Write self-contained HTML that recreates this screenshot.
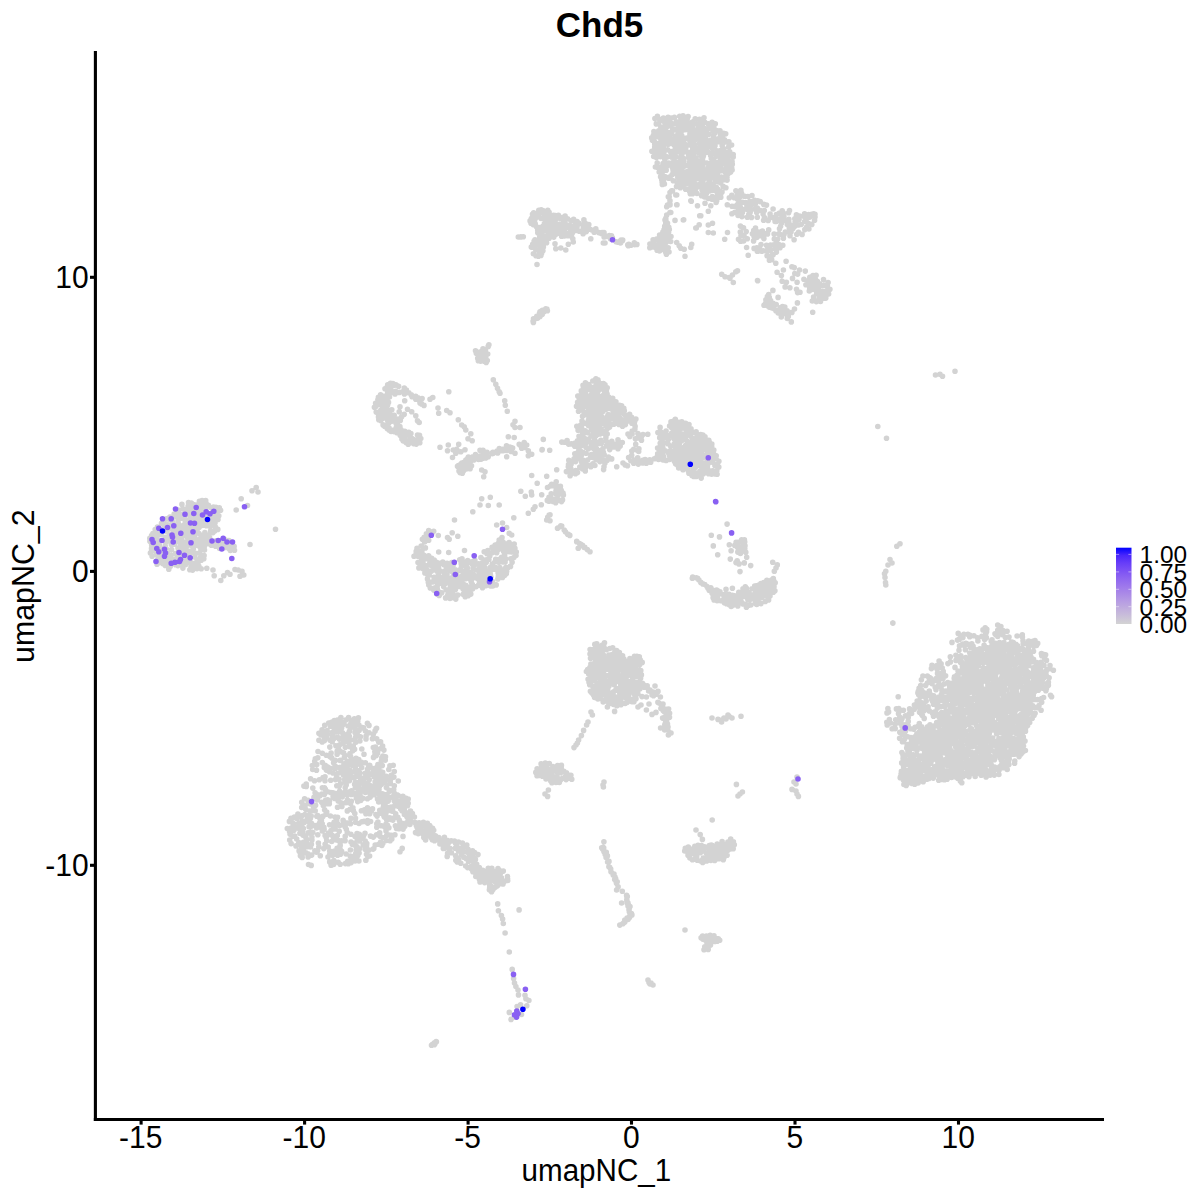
<!DOCTYPE html>
<html lang="en"><head><meta charset="utf-8"><title>Chd5</title>
<style>
html,body{margin:0;padding:0;background:#fff;}
body{width:1200px;height:1200px;overflow:hidden;font-family:"Liberation Sans",sans-serif;}
svg{display:block;}
text{font-family:"Liberation Sans",sans-serif;fill:#000;}
</style></head><body>
<svg width="1200" height="1200" viewBox="0 0 1200 1200">
<defs>
<linearGradient id="lg" x1="0" y1="0" x2="0" y2="1">
<stop offset="0.0" stop-color="#0000ff"/><stop offset="0.1" stop-color="#4926fb"/><stop offset="0.2" stop-color="#673df8"/><stop offset="0.3" stop-color="#7c51f4"/><stop offset="0.4" stop-color="#8e65f0"/><stop offset="0.5" stop-color="#9d77ec"/><stop offset="0.6" stop-color="#aa89e7"/><stop offset="0.7" stop-color="#b69ce3"/><stop offset="0.8" stop-color="#c1aede"/><stop offset="0.9" stop-color="#cac0d9"/><stop offset="1.0" stop-color="#d3d3d3"/>
</linearGradient>
</defs>
<rect width="1200" height="1200" fill="#fff"/>
<path fill="none" stroke="#d3d3d3" stroke-width="5.6" stroke-linecap="round" d="M174.8 516.4h0M213.5 507h0M205.7 500.5h0M189.4 542h0M204 505.2h0M206 522.5h0M184.8 519.7h0M210.2 526.4h0M166.5 518.9h0M193.9 566.4h0M175.5 553.5h0M178 548.1h0
M203.8 525.1h0M194.2 535.5h0M172.2 518.2h0M191.9 508.5h0M215.9 507.4h0M149.8 538.4h0M177.9 517.5h0M160.7 554.3h0M203.6 538.5h0M220.6 510.2h0M198.9 566.3h0M161.8 558.2h0
M159 531.3h0M173.8 561.1h0M184.4 551.3h0M194.4 504.9h0M167.9 556.4h0M199.4 501.3h0M193.9 526.4h0M169.7 519.5h0M204.9 532.6h0M188.5 558.3h0M176.9 512.9h0M191.6 513.9h0
M166.5 528.1h0M156.4 537.4h0M186 531.3h0M189.5 529.5h0M167.6 524.7h0M188.1 506.4h0M194.3 530.8h0M194.9 518h0M216 540.7h0M171.1 529h0M198.5 561.8h0M156.2 545.6h0
M171.7 559.4h0M193.6 515.2h0M185.1 553.6h0M198 539.8h0M189.1 509.3h0M197.7 504.9h0M178.2 556.4h0M180.7 514.3h0M193.3 511.3h0M197 520h0M210.7 530.7h0M218 519.4h0
M189.3 553.8h0M204.5 550h0M164.5 556.2h0M174.9 536.5h0M217.3 511.4h0M157.9 534.8h0M150.4 553.1h0M151.5 548.6h0M149.9 541.2h0M187.2 562.6h0M190.1 511.3h0M211.4 507.7h0
M166.2 548.9h0M191.3 503h0M161.1 534.5h0M216.2 513.6h0M178.2 523.3h0M178.8 551h0M222.9 543.8h0M181.9 525.7h0M165.4 537.4h0M174.7 534.4h0M182.9 568.1h0M164.6 554.1h0
M205.8 512.1h0M174.4 544.2h0M208.4 505.2h0M207.7 514.3h0M195.6 553.4h0M217.8 529.4h0M205.5 517.2h0M230.7 547.1h0M172.4 541.6h0M167.5 553.3h0M195.9 539.8h0M151.5 551.2h0
M163.9 528.3h0M164.2 523.9h0M159.6 562.5h0M186.5 515h0M211.5 540.7h0M212.7 514.4h0M206.2 541.1h0M180.8 549.7h0M178.9 529.4h0M208.5 522h0M193.1 552.3h0M183.3 557.1h0
M183.3 563.2h0M197.4 532h0M159.3 545.4h0M170.1 525.2h0M178.2 510.1h0M194 540.8h0M189.8 569.8h0M201 525.6h0M165.2 545.7h0M198 513.7h0M217 517.3h0M152.9 533.5h0
M213 532.6h0M208.9 535.1h0M184.8 509.6h0M204.1 555.6h0M202.8 544.7h0M195.3 509.8h0M197.6 507.2h0M188.2 556.1h0M197.5 545.2h0M197.2 542.2h0M214.7 511h0M152.1 556.2h0
M170.2 566.5h0M189 520.2h0M157.7 548.1h0M219.6 548.5h0M175 526.6h0M208.6 517.6h0M212.1 519.3h0M188.4 551h0M218.8 515.7h0M201.9 521.2h0M161.5 552.2h0M154 539.1h0
M193.2 521.6h0M191.4 562.9h0M192.6 546.7h0M184.1 524.9h0M153.8 544.5h0M200.6 508.6h0M166.3 562.6h0M206.4 525.7h0M228.8 548.5h0M200.7 557h0M156.4 554.4h0M197.1 559.8h0
M189 544.9h0M171.1 555.3h0M185.7 558.5h0M186.6 529.2h0M166.9 531.5h0M217.4 545h0M185.3 512.3h0M163.8 531h0M210.7 533h0M213.8 516.3h0M189.6 533.5h0M193.4 548.7h0
M227.7 542.2h0M211.4 545.3h0M161.5 523.3h0M220.8 542.9h0M187.8 512.3h0M224 547.7h0M183.9 548.3h0M203.8 558.8h0M198.8 522.7h0M169.3 534.7h0M165.3 565.4h0M201.2 516.7h0
M186.1 533.4h0M156.7 560.7h0M234.5 550.3h0M182.1 518.2h0M157.4 527h0M181.8 529.8h0M198.4 510.3h0M178.1 520.6h0M167.1 558.6h0M200.8 512.5h0M191.4 531.8h0M181.2 542.1h0
M197 568.6h0M209.2 519.9h0M186.6 541.7h0M160.8 548.2h0M171.3 544.6h0M178.9 526.6h0M175.6 564.7h0M198.5 516.6h0M181.2 555.2h0M165.7 541.9h0M192.6 570.1h0M189.9 523h0
M172.5 534.5h0M171.6 549.6h0M180.6 544.6h0M158.8 540h0M208.3 540h0M203.8 535.5h0M176.4 541.7h0M175.9 558.8h0M176.9 537.9h0M167 539.5h0M154.7 534.6h0M206.6 506.6h0
M155.2 529.5h0M171.4 539.4h0M190.2 516.1h0M192.8 528.3h0M188.5 502.5h0M158.7 551.9h0M200.1 547.3h0M231.3 544.7h0M202.1 540.4h0M199 533.5h0M180.3 563h0M203.7 519.5h0
M225.6 544.7h0M200.6 538.4h0M186.6 525.1h0M151.6 535.5h0M154 550.4h0M212.8 510.2h0M230.3 550.5h0M172.5 522.1h0M151.5 543.3h0M175.8 532.5h0M199.7 519.4h0M191 567h0
M208 543.8h0M199.2 527.2h0M184.4 516.7h0M176.7 530h0M164.8 560.8h0M189.5 504.6h0M173.4 524.6h0M185.7 564.4h0M202.1 500.6h0M187.1 536.8h0M186.6 546.2h0M158 543.5h0
M193 524.2h0M181.7 539.5h0M174.6 529.1h0M214.6 544h0M182.1 532.1h0M180 546.9h0M209.6 537.5h0M182.2 516.1h0M215.6 527.4h0M228.9 540.5h0M195.1 543.3h0M151.7 545.5h0
M154 546.8h0M183.1 535.6h0M234.1 546.4h0M196.7 528.8h0M169.9 517h0M194.9 537.8h0M202.9 510.5h0M221.1 545.1h0M204.2 547.1h0M191.6 536.6h0M206.1 503.2h0M201.2 560.3h0
M215.6 546.2h0M219.3 507.9h0M183.4 527.8h0M191.5 517.9h0M215 522.9h0M174.2 514h0M212.7 523.5h0M195.4 563.3h0M206.1 538.5h0M183.9 545.3h0M190.8 525.7h0M200.4 543.5h0
M220.2 540.9h0M194.9 556.9h0M181.2 552.6h0M177.9 565.6h0M201 550.1h0M179 559.2h0M168.5 537.1h0M156.6 541.6h0M182.9 508.7h0M197.3 526.2h0M158.2 558h0M169.5 541.1h0
M201.2 535.4h0M201.8 503.6h0M214.2 518.6h0M173.7 531.6h0M225.6 540.1h0M199.7 552.8h0M188.6 539.9h0M162.8 563.6h0M209.8 515.3h0M214.9 530.7h0M179 536h0M205.7 509.1h0
M181.9 504.4h0M164.6 526h0M213 570h0M214.2 575.8h0M220.8 580.5h0M223.8 575.8h0M227.5 572.5h0M230 574.2h0M235 569.5h0M238.2 570h0M242 571.2h0M243.8 575h0
M240 576.2h0M236.2 510h0M241.2 498.8h0M247.5 505.5h0M252 490.8h0M256.2 487.5h0M258 492h0M275.5 529.2h0M250 544.5h0M168.8 569.2h0M157 564.2h0M206.8 568.2h0
M201.2 568.8h0M535.4 243.4h0M542.9 250.8h0M570.9 227.3h0M542.9 210.6h0M540.6 247.1h0M549.9 216h0M535.2 223.7h0M557.2 228.9h0M533.2 224.6h0M555.3 223.4h0M559.1 224.3h0
M537.7 230.2h0M584.5 222.5h0M540.9 255.4h0M546.8 222.5h0M552.9 227.6h0M550 229h0M536 255.7h0M534.1 241.3h0M540.4 230.2h0M539.8 253.7h0M549.1 218.8h0M555.6 234.6h0
M541.6 242.1h0M549.1 212.2h0M579.3 231.2h0M562.6 228.7h0M564.8 230.9h0M585.9 223.9h0M574.3 226h0M576.7 230.5h0M574.7 221.7h0M552.3 231.2h0M545.1 217.9h0M543.4 240.2h0
M550.3 223.5h0M591.8 230h0M561.6 236.3h0M544.5 214.8h0M566.8 224.9h0M541.6 253.5h0M571.5 234.7h0M530.1 220.9h0M569.4 225.4h0M575.7 223.8h0M539.4 241.8h0M574.3 228.8h0
M542.8 236.1h0M546.2 230.4h0M553.5 215.3h0M533.7 212.7h0M537.8 232.7h0M548 227.5h0M541.1 218.5h0M532.5 214.3h0M559.5 232h0M557.2 224.9h0M546.6 242.7h0M549.2 234.8h0
M578.9 223.4h0M583 225h0M554.4 230.4h0M571.2 220.6h0M552.6 235.7h0M532.7 244.2h0M583.8 231.9h0M531.4 218.6h0M547 235.8h0M549.1 238.3h0M537.2 240.9h0M544.4 223.5h0
M543 226.3h0M557.5 231.6h0M544.3 212.6h0M573.6 219.4h0M552.4 218.8h0M536.5 226.8h0M583.3 228.1h0M539.1 251.8h0M569.8 235.8h0M583.9 230h0M558.3 226.7h0M540.6 213.1h0
M565.2 227.8h0M535 239.7h0M572.7 232.4h0M547.8 210.4h0M560.3 218.4h0M538.8 210.2h0M553.5 220.8h0M583.1 233.7h0M587.4 229h0M538.4 216.7h0M586.3 231.6h0M541.1 250.2h0
M577.1 221.5h0M539.8 227.5h0M539.7 237h0M567.7 235.8h0M540.4 243.4h0M535.2 218.7h0M537.8 244.6h0M560.9 225.6h0M555.5 215.5h0M542.6 231.7h0M550.1 225.3h0M534.8 215.4h0
M533.4 253.7h0M539.7 233h0M533.5 247.1h0M568.4 233.6h0M561.5 231.6h0M547.1 218.6h0M577.1 226.3h0M550.7 221.6h0M531.3 247.1h0M536.3 214h0M558.4 215.3h0M562.9 219.6h0
M531 223.3h0M567.6 218.9h0M546.4 225.2h0M570.6 231.5h0M565.1 216h0M564.1 235.9h0M565 233.7h0M535.8 249.8h0M583.9 219.9h0M541.2 209.7h0M576.9 228.1h0M541.6 237.8h0
M548.8 232.9h0M557.9 233.3h0M542.3 228.1h0M562.9 217.4h0M564.9 218h0M562.4 223.9h0M553.8 237.1h0M538.4 256.3h0M545.4 220.6h0M585.2 226.4h0M588.8 224.6h0M538.2 228.4h0
M572.4 228.4h0M543.5 242.8h0M557.6 217.5h0M546 213.8h0M535.7 245.4h0M567.8 227.1h0M543.4 247h0M590 229.2h0M564.5 221.9h0M555.6 219.6h0M547.2 238.4h0M534.5 221.6h0
M601.3 233.4h0M611.5 235.9h0M609.3 235.6h0M606.4 236.5h0M610.4 238.8h0M598.8 232.6h0M595.8 228.9h0M602.2 232.5h0M594.2 232.3h0M604 232.5h0M603.6 234.1h0M604.1 236.9h0
M595.8 230.2h0M612.4 237.9h0M604.6 235.4h0M602.9 233.7h0M634.7 244.6h0M634.3 242.9h0M616.2 241.8h0M627.9 244.8h0M630.9 245.3h0M620 241.4h0M622.2 241h0M622.7 240.1h0
M636.9 244.4h0M628.8 244.4h0M620.5 243h0M618 242.2h0M627.8 244.9h0M621.1 240.1h0M634.3 243.5h0M518.3 237h0M520.8 236.9h0M523.3 236.8h0M537 264.5h0M555 243.8h0
M555.8 248.8h0M560.8 248h0M565.8 250h0M568.3 244.2h0M573.3 242h0M572.8 238.7h0M590.8 238.7h0M603.3 243h0M605 243h0M628.3 245.8h0M660.7 239.9h0M664.1 238.6h0
M668.8 227.4h0M671 236.5h0M649.8 247.7h0M668.2 247.8h0M665.7 223h0M660.6 236.8h0M653.1 239.9h0M653.9 243.4h0M666.4 254.3h0M664 249.8h0M667.6 234.4h0M664 229.8h0
M664.1 246.3h0M665.5 232.8h0M666.5 230.9h0M666 242.6h0M667.1 238.7h0M655.3 247.2h0M666.6 250.4h0M662.9 232h0M651.7 245.1h0M668 240.8h0M665.2 235.4h0M666 220.9h0
M661.9 243.3h0M666.4 227.7h0M669.3 229.5h0M656.6 239.1h0M653.8 245.5h0M657.1 250.3h0M669 252h0M664.7 226.4h0M670.7 241.5h0M668.6 232.6h0M658 248.3h0M660.5 248.4h0
M656.8 245.6h0M659.6 235.1h0M661.1 246.6h0M667 236.9h0M665.8 252.4h0M664.6 240.4h0M662.6 234.3h0M649.9 244.1h0M665.3 248.2h0M652.6 247h0M659 241.1h0M659.5 251h0
M666.7 215h0M670 212.5h0M668.3 205h0M670 204.2h0M669.2 196.7h0M670 192.5h0M672.5 190.8h0M676.7 195h0M677 204.7h0M675 220.5h0M683.3 220h0M691.3 201.2h0
M697.5 205.8h0M696.3 228h0M699.7 215.8h0M676.7 242.5h0M679.2 245.8h0M680.8 248.3h0M684.2 249.2h0M685 256.3h0M690.8 247.5h0M691.7 244.2h0M665 220h0M666.7 206.7h0
M670 200.8h0M542.4 310.4h0M539.8 315.9h0M533.5 318.8h0M541.1 311.3h0M541.7 312.3h0M539.8 316.3h0M544.2 311.6h0M533.1 321.2h0M538.7 315.5h0M533.4 322.4h0M546.9 309.1h0
M542.5 313.5h0M535.8 318.4h0M543.3 312h0M537.7 318.1h0M542.3 314.2h0M536.8 316.3h0M538.4 316.2h0M539.5 313.4h0M547.4 310.7h0M538.3 317h0M545.8 308.8h0M540 316.4h0
M540 311.9h0M542.8 312h0M689.9 140.9h0M697.4 129.5h0M698.2 162.6h0M724.6 161.4h0M693.5 129.9h0M664.1 156.1h0M695.7 169.4h0M704.8 122.2h0M657.2 163.1h0M690.4 169.4h0
M711.3 158.4h0M653.8 137.6h0M713.5 173.5h0M687.2 171.5h0M714.7 139.7h0M732.3 164.2h0M699.2 167h0M720.2 137.7h0M676.1 157.1h0M694.3 133.3h0M655.4 167h0M701.4 140.7h0
M690.3 164.2h0M689.7 161.7h0M714 128.4h0M681.9 136h0M717.8 189.3h0M677.4 183.6h0M727 177.2h0M715.3 190.6h0M683.3 158.1h0M701 170.8h0M680.3 187.7h0M657.4 116.4h0
M678 133.2h0M685.3 165.2h0M670.3 122.9h0M720.5 180.8h0M666.8 166.2h0M651.9 151.2h0M666 132h0M728.7 154.3h0M722.4 153.3h0M707.4 129.7h0M684.7 123.6h0M722.2 145.8h0
M677.8 177.3h0M720.2 134.1h0M720.9 170.8h0M720.8 168.6h0M694.9 149.3h0M680.5 121.1h0M692 139.4h0M698.8 127.8h0M674.8 166.4h0M673.1 170.4h0M693.6 190h0M696.4 133.6h0
M686.6 138.1h0M685.6 189.2h0M691.1 185.9h0M704.3 143.1h0M717.8 167.9h0M703 180.4h0M668.8 178.3h0M667.7 149.8h0M697.2 123.9h0M685.7 149.1h0M721.1 164.8h0M664.4 144.4h0
M681.4 146.6h0M668.1 117.4h0M727.1 180.1h0M658.6 123.5h0M678.5 165h0M703.7 139.6h0M704 117.8h0M663.1 142.1h0M692.7 126.1h0M677 144.4h0M725.4 172.5h0M714.4 176h0
M718 179.5h0M663 171.3h0M716.3 187.2h0M700.4 131.2h0M667.8 139.5h0M723.6 133.2h0M715 145.8h0M706.8 163h0M717.9 162.2h0M717.8 181.6h0M697 193.5h0M684.9 144.3h0
M717.8 172.6h0M659.7 119.4h0M728.9 141.8h0M720.3 150.6h0M706.9 178h0M710.1 170.2h0M683.9 161.4h0M704.2 190.1h0M669.9 135.7h0M657.2 133.2h0M687.5 165.4h0M690.9 156.2h0
M653.9 131.6h0M660.8 127h0M671.1 118.1h0M679.7 116.2h0M706.5 148.6h0M712.9 131.5h0M717.4 130.8h0M687.4 126.6h0M671.4 156.9h0M680.6 130.1h0M688.4 122.7h0M726.5 152.5h0
M693.4 167.5h0M693.1 141.9h0M700.9 155.4h0M662.2 129h0M721.3 177h0M681 133.1h0M715.3 123.7h0M704.4 162.7h0M716.6 198.6h0M695.8 188.8h0M722 139.9h0M713.2 185.9h0
M707.8 188.9h0M654.4 141.8h0M688.7 155.1h0M709.6 178.3h0M725 157.6h0M664.7 159.2h0M663.4 118.1h0M692.2 152h0M712.5 177.9h0M692.6 176.1h0M654.7 147h0M697.1 187h0
M680.3 161.3h0M682.5 185.2h0M713.3 124.8h0M711.1 184.9h0M705.6 132.3h0M720 130.9h0M728.5 173.2h0M672.2 174.6h0M680.6 167.8h0M670.2 176.7h0M665.6 163.5h0M698 149.7h0
M697.9 170.1h0M699.7 143.3h0M705.8 134.7h0M717.6 139h0M662.3 135.1h0M689.7 191.4h0M673.1 124.1h0M690.3 178h0M698.9 138.3h0M660.4 156.6h0M656.4 157.4h0M708.5 165.9h0
M676.6 173.9h0M717.4 192.6h0M676.5 186.6h0M681.3 143.3h0M694.7 183.6h0M668.1 144.2h0M729.7 151.9h0M654.7 143.9h0M691.8 171h0M679.3 171.4h0M681.8 170.1h0M663.9 121.5h0
M684.5 175.5h0M722 191.9h0M688.1 116.6h0M683 164.1h0M710.6 163.5h0M714.4 165.4h0M657.2 136.6h0M665.4 176.7h0M691.8 145.4h0M674.4 117.4h0M693.8 153.7h0M713.1 183.7h0
M726.5 155.1h0M701.6 195.8h0M733.2 154.5h0M694.5 162.2h0M708.1 171.9h0M712.1 148.1h0M676.5 170.4h0M720.4 159.2h0M696.9 173h0M653.4 135.2h0M671 143.5h0M707.7 141.8h0
M706.4 193.6h0M696.5 164.6h0M656.5 148.7h0M699 153h0M658.8 143.2h0M672.5 162.8h0M692.4 122h0M724.8 177.3h0M671.5 126.4h0M708.3 123.9h0M710.3 142.6h0M700.7 160.5h0
M701.8 121h0M723 163.7h0M672.7 130.4h0M708.5 134.5h0M682.2 173h0M693 158h0M699.6 147.6h0M703.8 184.8h0M701 123.6h0M665.9 142.4h0M674.3 154.9h0M710.6 155.5h0
M696 179.1h0M723.1 186.3h0M700.9 180.2h0M705.9 139.2h0M674.8 150.4h0M698.4 184.8h0M680.9 126.6h0M672.4 167.7h0M729.7 170.2h0M702.7 158.3h0M714.4 133.5h0M713.9 161h0
M679.7 141.6h0M713.7 153.3h0M661.7 179.4h0M712.3 196.5h0M728 164.8h0M702 189.8h0M709 146.6h0M682.5 182.8h0M678.6 181.8h0M672.1 139.4h0M703.9 128h0M700.5 151.2h0
M670.9 164.9h0M662.8 166.1h0M692.1 134.1h0M695.2 118.8h0M675.5 136.3h0M671.6 133.6h0M690 152.3h0M725.9 187.7h0M662.1 182h0M717.3 196h0M706.2 174h0M668.1 141.8h0
M730.6 172.1h0M718.2 165.9h0M684.8 119.2h0M708 183.8h0M693.2 137.1h0M683.5 166.7h0M657.5 167.2h0M724.1 179.8h0M699.5 119.4h0M673.3 180.7h0M689.4 144.9h0M686.7 121.2h0
M728.7 156.5h0M663.3 147.4h0M703.7 174.5h0M655.1 152.7h0M656.3 123.9h0M692.5 193.7h0M663.3 176.2h0M711.2 187.2h0M728.1 160.2h0M702.4 126.1h0M683 115.7h0M715.4 142.6h0
M710.5 167.3h0M677.2 162.6h0M666.2 170.3h0M660.1 170h0M720.8 197.2h0M703.1 149.1h0M687.3 180.6h0M687 174.2h0M685.5 151.7h0M709.3 180.7h0M664.4 184h0M683.3 179.6h0
M704.9 152.8h0M711.7 199.1h0M665.5 128.9h0M684.2 127.6h0M726.5 169.8h0M680.5 123.8h0M728.6 147.1h0M653.7 156.5h0M720.8 193.7h0M689.9 134.2h0M713.5 136.1h0M674.1 160.4h0
M658.7 130.9h0M694.9 140.3h0M716.4 156.1h0M659.2 172h0M711 140.1h0M677.8 136.8h0M688.2 130h0M683.1 150.7h0M731.6 145h0M668.7 163h0M674.4 145.2h0M709.7 191h0
M694.8 145h0M668.4 121.6h0M723.7 148.8h0M724.5 139.9h0M720.6 156.2h0M681 175.4h0M663.6 180.4h0M682.5 152.8h0M684.3 129.8h0M690.3 193.8h0M702.8 193.2h0M667.6 136.5h0
M663.9 152.8h0M674.3 141.2h0M680.9 158.2h0M686.7 177h0M675.5 148.2h0M699.6 164.6h0M717.6 176.7h0M661.3 174.5h0M689.2 137.5h0M725.7 133.8h0M660 167.5h0M712.4 190.1h0
M686.2 183.8h0M692.7 149.4h0M701.8 177.7h0M675.8 129.4h0M714.5 168h0M700.6 185.3h0M732.1 161.9h0M676.8 140.9h0M658.6 145.5h0M700.8 145.3h0M702.4 135.9h0M721 142.2h0
M660.6 176.7h0M681.4 154.9h0M684 140.2h0M707.9 152.1h0M677.6 167.3h0M731.7 167.9h0M689.5 175.4h0M726.3 166.5h0M720 191h0M671.6 153.9h0M669.1 132.5h0M716.1 202.5h0
M715.5 180.2h0M714.3 199.5h0M667 156.9h0M719.5 154.2h0M658.5 153.8h0M662.5 150.4h0M685.3 181.6h0M660.9 141.5h0M664.2 139.5h0M714.4 170.5h0M708.9 127.9h0M703.4 156.1h0
M716.9 150.9h0M697.8 175.4h0M702.9 131.1h0M680.3 139.2h0M692.4 131.7h0M712.8 141.9h0M702.9 167.5h0M652.4 140.2h0M676.4 121.7h0M678 151.6h0M704.5 197h0M710.9 153.4h0
M661.2 152.4h0M668.3 125h0M678.1 125.5h0M707.6 169.4h0M696 157.8h0M660.7 145.4h0M663.5 132.2h0M679.1 149.3h0M695.6 137.6h0M672.7 151.4h0M651.7 137.9h0M690.6 181.2h0
M666.6 127.1h0M694.6 186.7h0M708.3 198.5h0M693.1 181.5h0M711.7 144.8h0M688.7 157.8h0M701.2 174.4h0M706 145.1h0M660.5 148h0M674.7 171.9h0M659.5 150.1h0M706.3 191.4h0
M680.7 165.1h0M722.9 135.5h0M732.1 170h0M660.4 138h0M712.1 122.2h0M701.9 128.6h0M733.2 157.1h0M708.5 174.7h0M680.8 177.6h0M692.7 173.2h0M691.1 129.6h0M713.7 158.7h0
M670.5 151.8h0M654.9 118.6h0M722.7 169.8h0M699.1 136.2h0M726.3 141.9h0M663 163.5h0M717.7 141.6h0M665.2 125.2h0M689.5 188.8h0M687.2 118.9h0M678.9 179.2h0M704.2 170.4h0
M682.3 119h0M662.3 184.4h0M706.1 186h0M664.6 135.7h0M720.7 183h0M742.6 202.2h0M770.2 217.3h0M741.9 216.6h0M749.7 208.9h0M773.1 209h0M738.1 215.5h0M763.1 214.1h0
M747 209.2h0M768.2 220.4h0M741.5 193.4h0M757.7 200.9h0M766.5 205.1h0M739.4 211.7h0M757.3 217.3h0M754.7 200.4h0M776.4 214.5h0M751.5 217.4h0M746.9 205.8h0M754.6 208.9h0
M731.8 195.2h0M773.2 217.7h0M750.2 212.3h0M747.3 217.3h0M745.5 202.6h0M729.3 197.8h0M763.6 220.2h0M760.2 201.6h0M757.3 208.1h0M737.5 194.3h0M737.8 204.3h0M732 206.2h0
M751.4 204.2h0M740.5 196.6h0M777.5 219.6h0M755.5 203.6h0M737.3 198.9h0M763.8 204.4h0M738.4 209.2h0M740.2 206.8h0M775.1 221.5h0M734.8 206.2h0M735.9 190.8h0M727.3 204.7h0
M759.9 210.3h0M764.4 217.6h0M752 195.5h0M734.3 197.7h0M734.9 212.4h0M742.4 212.4h0M764.3 210.5h0M740.9 190.4h0M743.5 209.5h0M731.9 213.7h0M748.8 214.3h0M750 201.4h0
M747.8 196.5h0M744.6 196.2h0M770.1 214h0M756.7 212.5h0M739.5 201.7h0M796.4 214.9h0M797.8 216.4h0M788.6 212.8h0M813.8 213.9h0M799.6 216h0M782.2 210.8h0M782.1 213h0
M779.2 213.8h0M789.5 210.6h0M811.6 214.2h0M815 214.2h0M804.6 213.7h0M804 216.2h0M779.5 213.1h0M808.7 214.5h0M783.2 212.9h0M801.2 224.5h0M808.3 223.2h0M780.6 226.3h0
M781.6 223h0M783.9 216.2h0M794.8 218.8h0M804.8 229.6h0M789.2 227.4h0M796.8 234.2h0M784 234.5h0M776.5 221.5h0M814.6 220.2h0M783.4 238.2h0M784.1 220.2h0M806.7 227h0
M798.5 232.3h0M788.1 231.8h0M787.3 224.5h0M809.7 217.1h0M777.6 239.3h0M802.1 234.4h0M791 232h0M779.5 228.7h0M788.9 219.2h0M811.8 224.4h0M804.7 221.5h0M779.9 234.4h0
M794.7 226.2h0M790.7 225.2h0M795.1 222.1h0M778.8 219.5h0M799.1 219.3h0M808.9 229h0M788.8 222.4h0M815 217.1h0M785.3 232h0M792.9 228.4h0M794.1 239.7h0M806.5 218.8h0
M790 235.7h0M798.2 224.9h0M781.7 218.6h0M778.9 244.5h0M770.6 250.1h0M755.5 228h0M763.9 238.6h0M773.7 244.9h0M762.4 231h0M740.4 226.1h0M767.5 233.9h0M754.2 236.8h0
M746.6 247.5h0M778.8 233.7h0M776.4 252.1h0M756.1 234.1h0M775.4 248.9h0M753.6 240.9h0M776.7 246.1h0M761 244.5h0M743.5 227.7h0M764 233.4h0M759.6 247.7h0M780 247.7h0
M740.3 232.1h0M740.6 241.2h0M753.7 230.6h0M770.1 256.3h0M773.1 254.7h0M771.7 259.8h0M743.6 241h0M744 235.4h0M747.3 238.7h0M756.9 247.8h0M760.8 235.7h0M752.4 233.8h0
M774.1 234.1h0M763.3 250.7h0M774.3 239h0M741 235.6h0M767.9 247.9h0M782.8 245.2h0M768.7 229.9h0M757.8 251.2h0M766.5 245.3h0M758.6 232h0M754.1 248.4h0M767.4 251.3h0
M756.8 237.5h0M746.2 231.6h0M770.5 245h0M776.1 243.2h0M738.5 239.3h0M671.7 190.8h0M668.3 196.7h0M675.8 195h0M667.5 205h0M670 205h0M676.7 204.7h0M670.8 212.5h0
M665.8 218.3h0M675 220.3h0M683.7 219.7h0M667.5 223.3h0M665 228.3h0M690.8 200.8h0M697.5 205.8h0M705 203.3h0M710.8 205.8h0M708.3 211.3h0M700.8 215.8h0M695.8 228h0
M699.2 224.7h0M708.3 225h0M712.5 223.3h0M708.3 232.5h0M713.3 233h0M727.5 232.5h0M724.7 239.2h0M716.7 200.8h0M721.7 274.2h0M725 276.7h0M729.2 277.5h0M732.5 275h0
M735.8 271.7h0M737.5 270.8h0M733.3 282.5h0M730 278.3h0M757.5 280.5h0M811.8 286h0M820.5 301.5h0M817.3 284.8h0M819.6 283.8h0M810 284h0M808.1 280.9h0M825.8 298.1h0
M827.4 286.1h0M818.4 300.4h0M812.3 301h0M807.8 283.9h0M812.3 279h0M824.1 285.2h0M815.9 287.4h0M819.3 296.8h0M816.6 293.1h0M816.3 290h0M815.3 279.4h0M809.7 288h0
M815 277.2h0M828.6 294h0M820.7 291.5h0M814 285.8h0M823.4 298.2h0M825.6 293.7h0M811.2 289.6h0M819 286.7h0M816.3 301.6h0M813.9 289.3h0M813 282.1h0M817.3 281.3h0
M828.1 282.5h0M823.3 291.2h0M814.4 300.4h0M809.8 277.3h0M805.9 284.8h0M821.7 285.6h0M827.1 290.2h0M809.3 291h0M813.6 297.1h0M822.7 294.1h0M823.5 279.6h0M813 275.5h0
M816.1 275.2h0M810.6 280.3h0M829.9 289.2h0M797.6 292.6h0M800 292.3h0M796.5 289.3h0M791.9 266.7h0M794.2 267.6h0M799.5 270h0M805.3 271.1h0M794.8 273.5h0M797.7 274.1h0
M803.9 279.3h0M792.5 278.4h0M797.1 282.2h0M783.4 270h0M777.1 272.3h0M781.4 275.6h0M782.2 281.3h0M786.4 282.2h0M785.1 286.9h0M789.9 287.7h0M786.1 261.2h0M775.8 263.2h0
M769.4 260.3h0M767.1 255.7h0M772.1 255.2h0M757.3 251.3h0M761.9 251.3h0M748.2 255.2h0M757.7 280.7h0M772.9 290.4h0M778.1 297.4h0M797.4 302.9h0M794.5 309h0M791.3 321.9h0
M812.7 312.2h0M775.9 310.7h0M791.9 312.4h0M779.3 309.5h0M787.1 310.7h0M765.2 303.8h0M768.3 299.9h0M768.7 294.6h0M773 303.3h0M784.8 309.1h0M785.3 311.4h0M765.9 299.8h0
M788.3 316.6h0M788.8 313h0M774 308.6h0M784.5 313.8h0M778.2 313h0M769.2 307.1h0M771 304.6h0M780.8 307.5h0M782 312.2h0M769.3 297.6h0M787.3 318.5h0M768.1 303.7h0
M782.4 308.9h0M781.3 317h0M784.8 307h0M781.3 310.6h0M776.2 304.5h0M764 305.2h0M767.4 296.5h0M767.8 306h0M772 308h0M782.5 306.5h0M770.6 300.6h0M424 405.4h0
M409.4 440.2h0M420 402.9h0M398.6 386.2h0M411.5 442.6h0M386.5 402.8h0M400.2 435.2h0M404.8 431.2h0M395.6 391.3h0M380.3 404.5h0M389.1 430.1h0M395 393.9h0M419.4 400.4h0
M397 432.8h0M383.8 396.2h0M408.8 432.3h0M415.8 399.2h0M422.1 398.6h0M404.9 439.9h0M379.4 413h0M406.1 442.4h0M384.2 407h0M386.8 387.6h0M395.9 384.7h0M401.9 439.1h0
M387.3 398.5h0M403.4 433.5h0M392 421.1h0M402.7 391.8h0M408.2 444.2h0M389.9 385.5h0M388.5 402.4h0M390.5 383.4h0M381.9 406h0M379.6 398.6h0M394.2 415.3h0M399 430.1h0
M377.9 399.7h0M384.4 404.2h0M391.1 387.1h0M386.9 424.9h0M389.9 417.8h0M374.4 407.3h0M389 422.7h0M387.7 420.4h0M381.8 418.9h0M411.3 394.9h0M387.5 394.1h0M381.3 412h0
M399.2 392.4h0M419.5 435.3h0M376.2 412.1h0M416.3 444.1h0M380.8 410.2h0M388.8 389.7h0M419.8 442.7h0M390.6 415h0M396.2 423.7h0M389.5 397h0M385 417.9h0M396.1 428h0
M387.2 428.6h0M382.7 408.5h0M414 443.7h0M404.4 393.9h0M392.6 430.3h0M376 406.3h0M383.1 424.9h0M400.9 429.6h0M413.7 439.5h0M396.8 429.9h0M381.6 402.9h0M402.6 437.3h0
M382.8 414.2h0M397.8 425.4h0M380.6 420.4h0M415.7 396.3h0M387.6 391.4h0M406.4 390h0M387.6 405h0M386.4 396.6h0M380.6 394.7h0M403.3 441h0M380 400.9h0M420.8 438.5h0
M386.5 406.6h0M410.9 433.6h0M387.7 384.7h0M394.2 385.3h0M408.8 392.7h0M392.9 383.5h0M421.6 403.9h0M378.5 416.9h0M382 416.3h0M387 414.7h0M412 438.6h0M418 397.9h0
M393.2 392.4h0M382.2 398.3h0M378.8 419.7h0M383.9 410.8h0M412.1 396.7h0M385.2 409.1h0M391.8 409.7h0M418.8 437h0M389.1 428.1h0M407.4 434h0M399.4 432.7h0M412.1 440.7h0
M389.7 410.3h0M399.9 426.6h0M384.6 426.2h0M416.1 440.3h0M398.2 419.1h0M404.3 388.1h0M406.7 391.9h0M389.4 393.3h0M394.1 431.6h0M378.4 397.2h0M394.6 419.3h0M400.3 420.4h0
M385 388.7h0M375.6 403.2h0M405.2 435.8h0M410.1 436.9h0M391.3 391.1h0M391.1 431.5h0M386.9 410.8h0M398.4 421.3h0M384.6 400.5h0M384.4 412.9h0M404.7 400.8h0M400 406.7h0
M399.2 411.7h0M407.5 409.2h0M411.7 411.7h0M415.8 415.8h0M417.5 420.8h0M419.2 422.5h0M404.2 414.2h0M401.7 416.7h0M417.5 435h0M430 399.2h0M432.8 397.5h0M448.8 391.7h0
M438 408h0M438.7 413.3h0M446.7 410.5h0M450 412.8h0M458.3 419.7h0M461.7 425h0M464.2 426.7h0M465.8 430h0M470.8 433.7h0M468 438.7h0M472.2 440.8h0M493.3 379.7h0
M495.8 384.2h0M497.5 388.3h0M499.2 391.7h0M500 393.3h0M504.7 400.8h0M505.3 405.3h0M507.3 411.2h0M515 421.2h0M513 424.7h0M515 427.5h0M520 427.5h0M508.3 436.7h0
M514.2 437.5h0M440 447.2h0M448.3 445h0M447.5 450.8h0M458.7 444.2h0M453.3 450h0M456.7 449.2h0M452.5 457.5h0M460.8 451.7h0M465 449.7h0M455.8 453.3h0M480 450.3h0
M483 450.3h0M519.2 444.2h0M524.2 442.5h0M526.7 445h0M521.7 448.3h0M528.3 450.8h0M531.7 454.2h0M528.3 455.8h0M515 453.3h0M506.7 456.7h0M525 447.5h0M520.8 445.8h0
M481.7 470h0M485 471.7h0M483.7 476.7h0M543.3 439.5h0M542.2 449.5h0M549.7 450.3h0M531.7 475.5h0M546.7 476.3h0M556.7 469.7h0M486 356h0M476.3 353.3h0M487.3 360.5h0
M479.9 352.1h0M483.6 359.9h0M480.5 356.5h0M480.6 361.1h0M484.5 361.5h0M483 348.8h0M475.5 350.8h0M485.5 350.3h0M485.9 359.1h0M482.3 355.6h0M484 353.1h0M484 357h0
M487.7 354h0M486.2 362.4h0M478.3 360.8h0M481.1 359.2h0M488.2 346.4h0M477.7 358.2h0M488.9 344.7h0M478.6 459.5h0M485.7 457.9h0M484 457.5h0M475.5 454.5h0M506.5 445.9h0
M471.3 460.6h0M497.1 451h0M506.7 450.4h0M508.5 449.1h0M492.3 453.6h0M507.7 448.8h0M474.1 459.4h0M465.9 460.1h0M487.6 456.6h0M464 465.1h0M465.1 462.8h0M504.2 450h0
M482.5 458.5h0M501.7 450.6h0M505.1 450.2h0M493.2 453.3h0M499.3 449.1h0M488.2 456.7h0M487 452.4h0M484.8 457.5h0M485.9 453.1h0M511.4 451.4h0M461.7 466.5h0M506.3 447.3h0
M492.9 452.2h0M480.3 457.1h0M468.4 457h0M503.4 450.6h0M499.3 448.6h0M469.4 461h0M497.7 452.9h0M502.5 449.2h0M481.2 459.1h0M492.4 452.9h0M462.8 464.9h0M510.8 447.6h0
M487.8 457h0M461.9 469.7h0M457.5 466.2h0M483.1 453.7h0M462.2 466.5h0M470.1 464.6h0M458.4 465.5h0M507 448.6h0M461.1 464h0M478.6 456.6h0M511 451.4h0M460.9 471.1h0
M472.8 456.8h0M507 450.3h0M512.6 448h0M480.4 455.9h0M509.8 447.1h0M508.8 449.9h0M466.6 464.8h0M461.8 463h0M469.4 463h0M471.5 465.8h0M464.7 469.4h0M459.5 469h0
M464.5 467.1h0M466.5 468.8h0M462.1 469h0M459 471h0M464.5 462h0M463.2 471.3h0M469.7 462.7h0M462.3 473.2h0M461.8 465.4h0M470.1 468.8h0M467.5 463.1h0M465.1 464.9h0
M473.8 459.9h0M460 472.6h0M470.8 460h0M467.8 458.3h0M468 461.4h0M484.9 567.5h0M427.5 578.9h0M467.4 568.1h0M450.1 594.2h0M455.8 599.1h0M490.5 586h0M472.9 577.9h0
M480.8 574.4h0M473.1 568.2h0M477.5 576.2h0M483.8 585.8h0M482 563.2h0M494.4 549h0M443.6 586.6h0M432.3 581.9h0M436.8 571.1h0M498.4 543.4h0M465.7 593.1h0M426.4 533.8h0
M480.9 557.6h0M438.4 574.7h0M490.4 571h0M504.7 575.2h0M451.3 567.4h0M500.7 572.3h0M422 553.2h0M482.3 566.3h0M492.3 564.1h0M426.3 565.8h0M512 547.7h0M495.2 545.1h0
M450.7 570.7h0M510.5 566.4h0M461.1 587h0M446.5 567.4h0M470.5 572.4h0M438.8 579.3h0M422.9 568.4h0M501.9 548.9h0M488.9 559.5h0M512.1 562.3h0M444.9 583.8h0M502.5 562h0
M447.1 563.2h0M440.4 571.1h0M482.8 582.1h0M416.1 553.7h0M503.5 546.7h0M467.7 560.5h0M457.8 595.1h0M506.7 571.2h0M449.3 578.6h0M459.7 559.7h0M427.1 574.1h0M509 551.6h0
M470.8 594.1h0M445.3 570.7h0M465.6 566.6h0M490.5 567.3h0M498.5 559.6h0M449 567.6h0M453.1 565.5h0M465.9 578.6h0M461.2 563.8h0M462.7 571.5h0M487.8 550.5h0M426.9 537h0
M473.5 574.7h0M510.8 545.1h0M506.2 546.9h0M464.5 562.1h0M429.8 563.2h0M495.1 561.8h0M512 551.9h0M475.3 564.2h0M487 553.7h0M441.7 592.8h0M445.6 597.9h0M458.2 583.1h0
M487.3 570.7h0M424.6 542h0M417 548.4h0M414 556.2h0M477.4 578.6h0M466.6 574.7h0M479.9 567.6h0M421.2 546h0M514.9 548.4h0M437.2 588.6h0M505.7 558.9h0M505 543.7h0
M472.3 584.4h0M450.2 581h0M466.7 587.4h0M455 577.8h0M437.2 586h0M480.7 571.4h0M448.4 591.7h0M420.8 565.2h0M426.4 569.3h0M444.4 574.6h0M447 577h0M510.8 558.7h0
M453.8 580.9h0M516.3 552h0M496.2 584.9h0M431.1 565.5h0M484.5 574.5h0M478.6 585.1h0M452.7 594.1h0M446.2 589.7h0M425.7 558.6h0M438.7 591.8h0M486.5 559.8h0M476.2 586.6h0
M439.9 583.1h0M458.5 570.7h0M497.5 550.2h0M461.5 576.2h0M465.2 596.7h0M492.5 552.6h0M498.3 576.2h0M418.2 556.5h0M456.3 574.6h0M460.6 569.4h0M482.5 587.7h0M489 578.6h0
M467.2 563.8h0M495.7 559.3h0M428.8 585h0M442.5 577.6h0M454 597.7h0M428.7 540.3h0M470.8 586.6h0M505.8 567.5h0M490.4 574.8h0M508.1 567.6h0M442.1 582h0M452.7 572.3h0
M499.5 547.8h0M474 587h0M434 577.3h0M424.9 572.9h0M436.9 594.1h0M506.8 550.4h0M472.6 564.5h0M503.7 551.6h0M469.3 589.3h0M428.7 530.6h0M489.8 556h0M450 598.5h0
M486.1 580.4h0M479.5 582.9h0M428.7 533h0M486.1 585.6h0M461.5 566.2h0M457.2 579.3h0M451.9 577.9h0M449.8 565.2h0M488.6 582.4h0M468.1 595.7h0M479.1 572.9h0M419.7 554.6h0
M434.2 560h0M429.2 575.1h0M444.3 565h0M503.5 569.7h0M436.6 562.4h0M501.6 557.2h0M458.1 585.3h0M484.2 551.8h0M462 558.8h0M435.2 580.9h0M505.1 561.9h0M433.4 562.7h0
M499.2 540h0M456.3 587.5h0M463.2 583.9h0M418.9 567.9h0M450.4 587h0M416.2 551.2h0M418 562.5h0M500.5 544.5h0M508.2 548.6h0M500.2 574.8h0M421.7 559.4h0M490.5 580.3h0
M455.4 569.8h0M451.8 562.6h0M425.4 547.9h0M424.2 537.3h0M447 582h0M475.4 569.8h0M504.7 554.7h0M433.7 531.2h0M465.3 571.9h0M484 560h0M492.6 581.5h0M434.8 567.1h0
M467.8 592.3h0M502.5 577.4h0M492.8 586h0M482.4 577.7h0M494.2 569.2h0M431.7 558.4h0M437.2 582.9h0M442.8 562h0M474.9 560.3h0M498.1 573h0M504.3 572.8h0M430.3 587.9h0
M447 574.7h0M487.6 576.1h0M498.9 562.2h0M470 576.6h0M479.4 577.5h0M478.6 563.9h0M439.2 595.4h0M472 561.7h0M433.8 590.1h0M516 555.5h0M428.6 555.9h0M452.1 583.2h0
M486.2 562.5h0M462.1 579.2h0M431.8 533.7h0M465.6 589.5h0M497.9 578.9h0M463.5 565.1h0M454.8 585.5h0M506.4 573.6h0M470 579.1h0M455.4 589.6h0M447.8 595.1h0M421.9 550.7h0
M509.1 542.6h0M438.6 567h0M451.1 590.5h0M459.9 578.8h0M433.4 565.1h0M463.2 594.2h0M428.8 559.3h0M423.9 555.3h0M475.5 577.2h0M449.6 583.5h0M499.8 567.5h0M454.3 562.8h0
M463.1 588.9h0M495.8 567.6h0M496.3 547.3h0M422.4 539.3h0M419.3 551.2h0M440.7 563.1h0M492.1 547.3h0M503 542.1h0M428.6 571.1h0M465.8 585.2h0M428.3 582.3h0M435.1 587.7h0
M490.9 577.1h0M513.9 557.5h0M423 562.7h0M431.5 571.1h0M498.3 569.4h0M514.2 544h0M496.7 552.8h0M472.5 589h0M471.2 581.8h0M463.5 573.8h0M484.1 571.1h0M485.8 583h0
M444.2 580.3h0M496.7 525h0M502.5 523h0M506.7 527.5h0M509.2 533.3h0M511.7 535h0M502 537.5h0M438.3 535.5h0M447.5 537.5h0M449.2 539.2h0M452.2 532.8h0M457.8 536.3h0
M438.7 552h0M448.7 552.5h0M464.5 550.5h0M454.5 520h0M472.8 511.7h0M480 505h0M481.7 498.7h0M490.3 497.2h0M488.3 505.5h0M499.2 505h0M513.8 517.8h0M528.3 513.3h0
M533.3 509.2h0M535 506.7h0M541.3 504.7h0M520.8 491.3h0M525.3 496.2h0M531.3 492h0M531.7 495h0M537.2 483.3h0M541.7 494.7h0M546.7 520h0M549.2 515h0M550 520.8h0
M557.5 528.3h0M560.8 525.8h0M564.2 530h0M568.3 534.2h0M576.7 541.7h0M580.8 544.2h0M578.3 548.3h0M584.2 547.5h0M590 551.7h0M555.9 484.9h0M555.6 493.6h0M557.8 495.5h0
M549 497.3h0M550.9 500.5h0M560.3 488.5h0M551.3 498.6h0M561.2 490.4h0M556 491.1h0M550.5 486h0M554.1 499.3h0M551.2 493.8h0M547.3 500.4h0M555.7 502.7h0M557.4 499.4h0
M563.4 495.1h0M559.7 493.7h0M563 493.1h0M561.5 501.6h0M556.3 489h0M559.3 500.2h0M562.5 499.9h0M553.6 485.7h0M553.1 501.4h0M549 501.3h0M560.4 486.3h0M611 401.3h0
M634.7 421.2h0M586 390.1h0M597.8 405.3h0M590.5 402h0M602.4 386.1h0M599.7 403.2h0M590.8 389.1h0M599.9 433.9h0M623.3 424.2h0M595.9 435.8h0M600 396.6h0M593.4 404.8h0
M582.5 416.3h0M596.3 390.1h0M595.2 400.3h0M584.1 414.8h0M597.3 412h0M629.1 420.8h0M586.4 412.3h0M585.8 394.4h0M604.3 408h0M579.8 395.7h0M613.8 401.6h0M631.6 417.4h0
M583.4 387.3h0M593 391.1h0M585.5 399.7h0M580.7 401.5h0M595.9 378.9h0M592.9 418h0M599.6 421.7h0M603 395.5h0M602.7 404.3h0M605 423h0M601.9 408.6h0M602.1 431.3h0
M605.8 403.6h0M620.3 410.2h0M587.2 423.5h0M581.3 390.9h0M614.9 405.6h0M590.2 404.9h0M583.5 407h0M598.6 385h0M590 386.6h0M597 409.8h0M578.5 411.3h0M613.2 412.2h0
M596.5 383.6h0M595.9 431.6h0M619.5 405.4h0M585.1 423.3h0M621.4 412.4h0M605.9 409.3h0M605 384.8h0M578.7 404.6h0M623.8 408.4h0M613.3 415.6h0M593.3 388h0M599.8 431.2h0
M590.9 417.6h0M619.4 417.4h0M588.8 384.5h0M594.3 424.2h0M601.3 416.1h0M609.6 427.1h0M631.9 423.2h0M581.3 404.1h0M585.5 387.9h0M605.9 435.5h0M598.5 382.1h0M602.7 423.5h0
M605.3 418.7h0M586.4 405.8h0M624.3 410.8h0M592 414h0M595.3 417h0M593.9 394.7h0M625.4 424.6h0M587.9 397.8h0M604.6 391.7h0M598.6 397.9h0M607 429.1h0M588.2 403.4h0
M583.9 412h0M601.2 389h0M595.2 406.7h0M581.6 409.8h0M609.3 423.1h0M624.5 420.8h0M624.7 414.8h0M617 423.2h0M585.5 396.9h0M591 398.5h0M603 411.3h0M598.8 413.3h0
M611.6 405.3h0M601.2 429h0M596.2 388.1h0M600.8 412.9h0M591.3 429.3h0M608.2 414.6h0M603.7 433.3h0M580.6 406.3h0M585.9 386.1h0M596.7 414h0M582.6 392.3h0M580.5 408.3h0
M617.6 405.8h0M606.4 391.1h0M592.8 381h0M594.9 426h0M582.8 400h0M609.2 402.2h0M609.8 418.4h0M596.6 396.3h0M587.8 389.4h0M614.2 419.4h0M597.3 425.2h0M607.1 394.1h0
M607 401.1h0M590.3 396.6h0M595 429.3h0M627.1 421.2h0M613.8 424.3h0M582 421h0M597.8 429.7h0M591.5 394.2h0M602.4 399.9h0M593 425.9h0M595 409.8h0M595.1 420.7h0
M612.7 398.3h0M619 424.4h0M605.9 425.7h0M581.9 394.6h0M603 420.3h0M591.4 407.3h0M603.4 383.6h0M591.4 424.1h0M585.1 402.3h0M612.7 417.6h0M595.5 381.4h0M627.4 417h0
M610.6 398.9h0M582.6 397.7h0M605.4 431.6h0M622.5 426.2h0M612.4 409.4h0M597.9 379.9h0M604.5 405.7h0M600.3 387.3h0M607.6 407h0M607.2 434h0M611.2 403.4h0M594 412.6h0
M605.2 388.8h0M600.8 383.6h0M597.2 402.3h0M577.8 396.1h0M598.6 416.9h0M604.3 402.3h0M594.8 386.7h0M626.3 419h0M608.6 397h0M599.4 427h0M587.3 415.1h0M609 420.6h0
M592.7 399.4h0M588.4 408h0M618 413.1h0M597.7 434.3h0M588.3 410.8h0M589.1 414h0M617.5 421h0M621.5 422.7h0M576.5 406.2h0M609.6 408.5h0M621.3 419.5h0M597.2 393.4h0
M607 416.7h0M607.2 387.8h0M598.1 391.1h0M615.6 409.6h0M606.6 398.4h0M615.9 401.8h0M588.4 425.4h0M591 410.3h0M615 416.7h0M588.5 420h0M583 385.3h0M598.3 419.8h0
M621.6 405.7h0M635.9 419.1h0M585.4 382.8h0M634.3 423.6h0M599.2 400.4h0M579.3 398.5h0M577.6 402.4h0M629.7 416.5h0M629.6 414.3h0M593.1 432.3h0M591.4 420.3h0M580.7 451.4h0
M594.9 465.5h0M602.9 448.7h0M588.8 465.3h0M582.6 469h0M582.2 466.2h0M611.7 458.9h0M568.3 466.8h0M605.9 437.6h0M566.4 471.6h0M588.3 439.4h0M606.3 441.3h0M608.5 457.1h0
M583 434.9h0M575.5 473.8h0M593.5 448.5h0M584.4 438.3h0M581.4 445.6h0M604 466.8h0M575.7 470.6h0M590.6 457.1h0M611.8 441.2h0M578.1 430.3h0M587.6 460h0M613.7 446.9h0
M611.4 445.6h0M576.8 426.3h0M584.4 444.8h0M585.2 430.7h0M568.6 444.1h0M586.2 464.3h0M581.6 462h0M604.2 454.9h0M600.9 440.4h0M606.5 445.9h0M561.8 442.1h0M599.9 461.6h0
M594.3 453.8h0M590.8 466.7h0M577.8 456.4h0M582.8 460h0M595.7 445.6h0M591.2 435.9h0M591.4 445.1h0M581.3 455.6h0M599.3 453.5h0M618 439.8h0M575.6 461.6h0M594.1 458h0
M615.3 444.4h0M587.4 432.6h0M585.4 467.8h0M585.3 470.9h0M574.8 446.3h0M579 436.3h0M579.8 467.1h0M601.2 443.4h0M596.7 451.7h0M577.3 459h0M600.1 457h0M578.9 449h0
M596.1 441.7h0M594.2 438.4h0M568.8 460.2h0M578.5 445.1h0M603.4 452.2h0M591.3 454.6h0M577.5 440.7h0M618.3 444.5h0M578.1 452.2h0M574.1 458.8h0M573.1 472.9h0M609.7 449.6h0
M571.3 443.9h0M570.7 468.4h0M570.1 475.7h0M610 442.7h0M580.3 458.4h0M581.7 429.9h0M586 447.3h0M582.9 452.2h0M607.2 460.3h0M579.7 438.5h0M574.5 443.2h0M586.3 442.4h0
M604.9 463.3h0M568.5 464.5h0M596.7 456.1h0M603.6 469.6h0M567.1 440.6h0M571.4 461.8h0M591.6 442.3h0M600.3 450.5h0M582.6 432.3h0M596.6 448.7h0M577.5 472.4h0M593.7 444.4h0
M580.6 425.2h0M603.7 460.6h0M620.2 445.9h0M596.3 459.7h0M570.9 472h0M571.1 464.2h0M588.4 448.7h0M618 448.7h0M578.6 442.7h0M586.1 453.2h0M622.3 442.5h0M564.7 442.2h0
M581.6 427.5h0M583.7 441h0M592.9 463.9h0M574.8 453.7h0M598.7 443.4h0M643 434.5h0M641.5 436.4h0M642.8 460.3h0M671.9 453.6h0M663.6 456.5h0M637.6 460.7h0M662.9 447.8h0
M632.1 434h0M660.1 427.4h0M633.7 449.2h0M662 440.1h0M634.2 460h0M661 457.6h0M635.4 438.8h0M638.1 437.9h0M658.5 459.5h0M669.7 456h0M660.9 432h0M670.7 446.2h0
M667.9 443.8h0M660.2 443.3h0M630.8 460.7h0M646.3 463.3h0M665.7 437.3h0M650.7 462.2h0M663 460h0M668.3 439.5h0M628 434.1h0M654.4 458.8h0M638.3 464.1h0M668.7 453.3h0
M660 446.8h0M623 463h0M637.9 433.6h0M661.9 435h0M635.1 426.4h0M634.9 429.1h0M649.8 459.7h0M638.9 448.7h0M670.4 450.7h0M664.8 433.1h0M657.9 432.6h0M631.7 455.2h0
M637.7 457.8h0M660.6 449.8h0M641.5 440.3h0M664 442.9h0M635.7 444.2h0M625.2 464.9h0M657.6 448.1h0M632.2 431h0M647.8 434.2h0M657.3 456.4h0M666.1 460.4h0M638.7 451.5h0
M642.8 462.9h0M628.6 457.6h0M629.8 436.4h0M645.2 459.5h0M662.8 454h0M666.1 431.1h0M659.7 437.7h0M631.8 451h0M668.6 435.9h0M633.7 463.2h0M669.6 459.5h0M636.6 450h0
M665.3 450.8h0M657.7 453.8h0M678.7 468h0M701.2 478.1h0M690.9 452.5h0M671 421.9h0M707.1 445h0M682.1 466.2h0M692.1 462.7h0M693.9 455.6h0M700 439.6h0M681.3 456.6h0
M707.4 466.1h0M693 472.7h0M686.3 449.1h0M685.5 459.9h0M707.2 471.3h0M695.3 467.5h0M711.5 457h0M716.8 470.8h0M686.9 424.7h0M679.3 444.1h0M710 460.6h0M678.7 440.2h0
M686.7 464.4h0M701.4 444.2h0M695.5 445.5h0M681.7 448.7h0M696.7 443.9h0M685.6 423.2h0M708.8 440.2h0M675.3 419.4h0M712.6 470.7h0M676.1 453.6h0M680.2 424.3h0M705 455.1h0
M687 431.7h0M680.9 451.1h0M711.8 450.2h0M697.2 437.5h0M715.9 458.4h0M700.4 442.1h0M717.4 464.5h0M713.8 450h0M681.3 433.7h0M697.6 446.2h0M718.9 461.2h0M696.2 459.2h0
M709.5 442.4h0M674.5 461.5h0M705 436.9h0M689.3 466.2h0M709.1 470.9h0M693.3 451.5h0M669.6 426h0M706.6 440.8h0M693.7 440.1h0M689.2 450.9h0M708.6 456.5h0M700 462h0
M698.3 454.1h0M671.6 435.3h0M685.4 438.4h0M688.2 447.1h0M704.5 471.9h0M700.7 434.5h0M685.8 435.4h0M703.8 444.8h0M699.8 475.8h0M690.5 435.9h0M702 470.1h0M694.1 464.3h0
M708.5 448.7h0M674.2 428.8h0M675.6 449.3h0M698.3 459h0M696.1 447.6h0M695.8 439.8h0M716.2 455.8h0M709.5 450.8h0M698.5 473h0M675.9 440.9h0M688.4 471h0M681.8 421.8h0
M677.2 430.8h0M679.4 453.3h0M712.9 462.5h0M685.2 456.6h0M671.6 433.2h0M696.6 433.8h0M686.9 455.7h0M676 457.1h0M687.3 468.1h0M702.6 457.6h0M700 465.8h0M679.7 438h0
M703.1 455.1h0M673.4 452h0M683.2 462.9h0M691.2 456.7h0M675.6 425.9h0M708.4 463.2h0M707.4 453.1h0M676.1 421.7h0M697.1 464.4h0M698.9 435.3h0M702.9 435.1h0M671.5 427.6h0
M705.5 467.4h0M703.6 463.1h0M688.9 473.3h0M682.5 453.5h0M685.7 452.3h0M702.1 439.8h0M693.6 432.2h0M672.9 458.5h0M692.9 459.5h0M700.5 450.7h0M677.5 464.9h0M710.4 453.1h0
M683 469.7h0M688.5 443h0M676.9 433.7h0M683.3 436.6h0M673.4 445.5h0M677.3 444.9h0M713.4 457h0M691 428.8h0M681.2 428.5h0M681.6 440.8h0M711.6 474.1h0M683.8 434.1h0
M705.3 449.3h0M693.2 442.2h0M681.3 459.6h0M693 448.3h0M683 457.5h0M692 475.6h0M674.3 443.7h0M679 433.1h0M679.2 447.7h0M678.9 422.2h0M685.6 428.9h0M677.8 426.7h0
M688.6 429.2h0M695.4 472.9h0M675.2 436.2h0M714.9 465.4h0M681.4 464.3h0M674.3 434h0M698.4 449.1h0M689 424.6h0M693.8 476.4h0M683.1 424.7h0M703.9 469.3h0M679.2 461.7h0
M701.4 446.6h0M673.6 431.6h0M679 429.4h0M692.3 438h0M684.5 427.2h0M711.8 454.7h0M711.7 446.6h0M677.1 437.7h0M718.8 467.1h0M702.6 449.8h0M714.6 474h0M707.5 468.6h0
M713.4 452.7h0M704.3 440.6h0M672.1 424.6h0M696.2 476.4h0M689.3 460.1h0M703.9 442.7h0M677.8 463h0M703.9 438.6h0M700 471.4h0M690.2 446.1h0M696.1 431.7h0M696.3 454.9h0
M717.1 474.3h0M684.1 447.3h0M695.5 462h0M678.3 459.8h0M686.9 441.1h0M691.7 431.5h0M695.2 452.1h0M707.2 459.5h0M702 466.1h0M708.6 473.7h0M703.2 474h0M691 441.9h0
M699.8 452.5h0M700.6 455.1h0M673.7 421.1h0M673.8 438.4h0M711.8 444.1h0M685.5 445.6h0M693.7 469.4h0M675.6 463.8h0M543.3 439.2h0M542 450h0M549.7 450.3h0M546.7 476.2h0
M556.2 481.7h0M551.7 484.2h0M547.5 487.5h0M616.7 466.7h0M627.5 465.8h0M692.7 577.1h0M696.3 577.7h0M698.9 580h0M727.1 524.1h0M711.3 535.3h0M719.5 536.9h0M713.3 545.9h0
M717.7 554.7h0M729.3 544.7h0M731.1 550.7h0M730.3 559.1h0M744.3 562.9h0M750.7 565.6h0M740 571.6h0M746.7 557.3h0M772.7 562.3h0M777.3 564.9h0M776 568h0M774.3 571.3h0
M726 589.3h0M732.4 588.3h0M737.5 547.3h0M742.9 550.5h0M737.2 560.9h0M745.8 552.3h0M739.5 547.5h0M740.4 553.5h0M741.7 539.7h0M739.1 542.1h0M741.4 547.3h0M744.7 542h0
M734.8 545.4h0M736 562.6h0M739 563.9h0M745 545.8h0M737.8 552.1h0M740.7 549.5h0M736.1 542.4h0M738.6 549.5h0M743.5 544.6h0M744.4 539.9h0M737.1 544.9h0M744.8 548.5h0
M736.8 599.3h0M760.9 583.5h0M728.4 597.9h0M762 597.5h0M745.6 593.5h0M758.2 597.8h0M732.3 595.4h0M704.8 584.5h0M738.8 592.4h0M761 603.6h0M759.6 589.2h0M765 590.7h0
M711.8 590.2h0M717 600.6h0M758.4 595.4h0M729 594.2h0M747.8 599.3h0M712.1 593.2h0M724.1 596.8h0M734.6 595.8h0M728.2 602h0M767.4 596.6h0M758.9 585.1h0M770 596h0
M763.1 588h0M760.1 593.7h0M757.7 601.1h0M724.4 602.7h0M737.2 604.1h0M733.2 605.1h0M740.7 600.6h0M726.5 603.8h0M737.7 597.6h0M742.3 593h0M720.5 593.8h0M774 586.7h0
M764.7 586.6h0M765.6 588.6h0M709.3 590.5h0M754.7 586h0M738.4 601.7h0M755.4 603.2h0M769.2 583.4h0M760.1 598.1h0M751.6 598.1h0M708 588.3h0M763.8 582.5h0M713.1 597.8h0
M715.7 599h0M713.7 594.6h0M732.8 598.2h0M745 591.1h0M716.6 590h0M750.6 595.8h0M768.2 587.8h0M740.4 598.7h0M755 600.3h0M730.7 603.5h0M743.1 603.9h0M767.9 591.2h0
M734.2 603.6h0M692.3 578.3h0M710.8 587.7h0M726.4 600.5h0M713.8 590.6h0M770.8 590.7h0M748.6 605.2h0M764.1 594h0M761.8 591.4h0M771.5 580h0M724.8 594.3h0M756.7 604.5h0
M772 587.9h0M743 588.8h0M750.8 605h0M755.8 588.9h0M766.8 584.7h0M770.8 592.7h0M717.5 593.2h0M749.7 599.8h0M752.4 595.1h0M746.8 596.2h0M773.3 578.6h0M731.2 606.5h0
M707 586.5h0M768.6 599.9h0M756.5 597h0M771.5 583.5h0M773.3 592.2h0M755.4 593.2h0M758.2 592.5h0M757.6 602.9h0M721.3 600.8h0M702.9 583.9h0M756.4 585.7h0M774 581.2h0
M760.2 596h0M716 595.9h0M737.8 605.9h0M728.3 599.8h0M753.5 597.1h0M718.2 591h0M735.3 600.3h0M730.7 599.2h0M735.9 602.6h0M745.3 586.9h0M700.8 582.4h0M767.9 594.1h0
M727.2 596.3h0M697.6 578.3h0M771 585.3h0M739.4 596.1h0M720 591.9h0M717.5 597.4h0M749 592.8h0M729.5 605h0M744.3 596.5h0M752 588.7h0M741.5 602.4h0M725.1 599.2h0
M766.9 580.4h0M731.1 596.8h0M714.1 599.9h0M775.2 582.8h0M746.4 607.3h0M746.4 588.4h0M765.3 601.4h0M745.7 604.4h0M718.8 600.5h0M774.9 590.7h0M966.3 712h0M921.7 714.5h0
M981.7 772.7h0M982.5 657h0M937.1 666.9h0M1008.3 673.1h0M1008.6 761h0M970.3 656.7h0M1041.5 672.3h0M1026.7 698.7h0M981.7 741.4h0M992.4 718.4h0M942.9 762.7h0M929.6 677.6h0
M948.9 711.3h0M1014 695.7h0M901.7 762.9h0M1002.7 667.2h0M988.1 758.3h0M968 706.5h0M986.8 629.2h0M986.7 721.1h0M979.3 709.6h0M991.4 708.4h0M973.4 672.4h0M976.5 688.7h0
M989.7 688.7h0M1007.2 769.5h0M973.9 709.8h0M956.5 681.7h0M924.5 734.7h0M1002.9 767.8h0M979.8 704.8h0M1013.4 698.6h0M968 673.6h0M962.8 644.1h0M898.8 708.6h0M986.9 700.4h0
M1040.9 699.9h0M938.8 751.5h0M978.8 747.7h0M1019.1 756.6h0M959.1 639.4h0M969.9 716.4h0M1012.9 675.5h0M943.9 716.9h0M1022.1 721.2h0M991.5 713.2h0M994 697.6h0M902.1 734.2h0
M957.6 687.6h0M951.9 772.7h0M972.8 653.1h0M1012.7 746h0M938 686.4h0M954.5 772.4h0M1011.9 743h0M934.3 666.9h0M976.4 651.2h0M953.5 719.4h0M1014.6 763.2h0M902.4 741.8h0
M972.4 734.3h0M927.4 729.2h0M902.6 730.6h0M996.5 728.4h0M948.9 747.4h0M961.7 773.8h0M1011.3 652.1h0M901.9 752.6h0M973.8 707h0M945 746.3h0M907.7 736.8h0M979.3 758.7h0
M1019.5 708h0M1029.4 691.5h0M908.5 751.2h0M917.9 692.9h0M950.3 759.9h0M917 750.2h0M1001 633.8h0M932 683.6h0M1007 717.6h0M922.4 715.6h0M1026.7 723.8h0M924.6 693.1h0
M938.1 705.1h0M994.3 775.1h0M939.1 674.6h0M994.6 665h0M1004.3 645.2h0M1022.4 637.1h0M960.6 662.6h0M924.4 750.5h0M902 718.8h0M967 693.7h0M995.7 741.9h0M988.3 762.6h0
M923.9 738.6h0M1037.7 699.6h0M947.5 741.6h0M979.6 676.9h0M959.6 688.9h0M1039.1 680.8h0M1016.4 731.9h0M903.4 710.3h0M986 714.1h0M999.5 686.4h0M1033.5 651.2h0M948.7 776h0
M932.7 701.5h0M1030.4 696.1h0M920.7 773.9h0M978.2 751.4h0M921.8 729.7h0M988.2 739.6h0M957.1 772.1h0M991 729.1h0M981.1 762.9h0M898.5 713.8h0M1033.4 641.1h0M994 691.1h0
M938.7 780.2h0M984.1 648.4h0M986.8 649.1h0M945.6 675.7h0M939.8 745.8h0M990.9 677h0M1027.5 693.8h0M1026.6 661.1h0M1034.4 668.5h0M935.6 712.2h0M919.3 723.6h0M955.1 733.8h0
M930.8 740h0M995.3 692.2h0M989.1 649.4h0M1011 675.7h0M959 673.5h0M997.7 625.1h0M977.6 727.1h0M1022 728.9h0M976.1 699.8h0M929.3 710.9h0M918.6 704.9h0M996.6 647.8h0
M1034.2 707.4h0M986.5 718.7h0M1022.3 634.7h0M1005.4 637.4h0M911.6 713.5h0M991.2 764.6h0M1013.6 727h0M1012.4 732.1h0M936.8 741.5h0M1006.2 683.4h0M1028.3 709.3h0M921.1 702.6h0
M1026.4 718.1h0M1043.6 697.5h0M886.8 722.3h0M938.9 697.1h0M937.3 707.9h0M964 719.9h0M982.4 662.2h0M1035 640.5h0M940.2 777.7h0M927.4 676.1h0M980.9 745h0M947.8 777.8h0
M1022.3 649.5h0M950.2 733h0M971.5 700.9h0M1007.7 752.3h0M976.6 672.1h0M1000.4 680.3h0M978.3 739.3h0M1022.2 680.9h0M978 685.1h0M951.6 753.1h0M956.8 752.8h0M916.3 760.3h0
M943.2 671.3h0M1028.4 648.2h0M977.6 637.8h0M992.7 738h0M968.2 644.3h0M991.6 688.1h0M995.1 649.4h0M1035.5 699.5h0M1003.6 697.1h0M1025.2 661.4h0M956.1 769.1h0M934.2 751.2h0
M908.2 717.5h0M1009.4 745.9h0M908.1 752.6h0M986.3 671.8h0M972.4 761.7h0M940.7 750.8h0M965.5 683.1h0M1017.8 696.2h0M944.5 697.2h0M912.4 780.4h0M954 756h0M942.8 752.7h0
M936 739.1h0M953.7 697.4h0M1030.6 660.3h0M1018 680h0M983 629.9h0M981.7 748.9h0M933.3 757.4h0M978.8 768.2h0M1030 704h0M920.1 741.8h0M963.9 750.9h0M971.5 666.7h0
M939 678.3h0M1002 653.8h0M971.4 752h0M908.2 721.4h0M946.8 716.1h0M945.6 772.1h0M956.9 728.4h0M944.8 706.1h0M912.1 783.4h0M944.7 777.6h0M925.7 764.4h0M1038.5 665.4h0
M948.7 690.2h0M985.2 627.9h0M938.7 682.1h0M1021.1 670.4h0M942.2 698.5h0M960 671h0M941.8 685.6h0M908.1 749.2h0M928 695h0M1002 726.8h0M925.1 745.2h0M947.6 736.8h0
M956.7 743.9h0M995 633.8h0M1004.3 727.6h0M1004.8 708.5h0M969.2 718.9h0M923.5 703.9h0M914.3 781.7h0M977.1 649.8h0M998.6 634.5h0M955 667.4h0M937.2 669.2h0M951.6 777.5h0
M986.6 631.8h0M1034.2 676.5h0M947.5 750.2h0M970.5 690.1h0M994.1 723.4h0M901 721.5h0M1009.8 741.6h0M1005.5 670.8h0M970 745.9h0M903 755.2h0M960.4 658.1h0M954.4 684.4h0
M986.8 656.6h0M1003 728.3h0M1045.9 690.7h0M985.2 669.2h0M986.5 771.9h0M905.8 760.1h0M959.8 681.8h0M1035.4 671.7h0M1005.8 713.3h0M967.5 763.5h0M974.5 688.4h0M920.7 685.5h0
M937.5 673.4h0M958.5 753.4h0M919.5 712.3h0M1039 672.5h0M967.8 740.1h0M976.9 690.7h0M952 642.4h0M969.9 768.2h0M969.2 735h0M933.2 770.8h0M960.3 780.9h0M896.4 708.9h0
M1005.1 723.9h0M1023.2 643.5h0M987.6 650.5h0M977.7 708.5h0M956.4 765.6h0M910.8 728.7h0M1015.9 710.1h0M1000.5 643.4h0M999 742.5h0M954.4 695.1h0M928.6 739.8h0M934.6 697.7h0
M941.4 694.2h0M1012.4 754.1h0M984.6 639.6h0M952.7 685.1h0M1009 637.1h0M905.2 735.6h0M909.6 708.9h0M1050 665.5h0M988.5 657.7h0M1000.1 749.1h0M946.2 774.8h0M966.7 669.5h0
M973.9 635.8h0M960.9 775.1h0M951.9 755h0M1011.4 737.7h0M1017.4 681.9h0M956 699.6h0M999.2 694.1h0M991.1 647.1h0M1007.1 631.2h0M1024.3 693.9h0M1002.3 652.1h0M965.9 643.3h0
M974.6 768.5h0M910.5 754.3h0M1013.9 707.5h0M921.4 679.7h0M1000.9 626.6h0M997.7 636.5h0M1019.5 716.3h0M964.3 645.4h0M1024.2 654h0M988.1 676.1h0M1025 708.7h0M977.9 641h0
M949.6 686.6h0M910.6 771.5h0M905.8 770.6h0M926.8 753.8h0M948.2 722.3h0M990.2 775.1h0M887.9 708.6h0M1024.2 698.6h0M937.6 744h0M928.2 742.3h0M970 729.9h0M964.3 774.6h0
M1024.3 750.8h0M930.7 748.3h0M981.3 716.7h0M974.8 698.3h0M944.3 729.6h0M944 771.6h0M925.4 697.2h0M1017.4 687.6h0M973.3 742.1h0M988.5 721.5h0M960.7 718.3h0M1046.9 683.5h0
M944.5 775.1h0M905.4 715.8h0M1026.9 643.8h0M921.3 733.6h0M1008.6 650.2h0M969 724.6h0M923 693.1h0M1029.1 695.7h0M944.4 733.8h0M888.6 711.9h0M1042.3 688.1h0M1004.8 684.6h0
M917.2 707h0M1011.2 679.3h0M999.5 751.6h0M917 772.3h0M1014.1 746h0M972.4 699.8h0M990.3 670.1h0M1009.8 655.9h0M951.5 776.1h0M988.6 732.6h0M960.8 635.7h0M952.2 689.9h0
M1014.3 692.5h0M999.3 719.5h0M930.7 729.9h0M1022.4 752.3h0M1021.7 687.1h0M929.4 679.9h0M1026.6 713.4h0M981.1 685.4h0M914.2 709.3h0M998.2 754.5h0M974.3 736.5h0M1032.3 718.2h0
M1003.2 714.5h0M969.6 635.1h0M1039 705.6h0M983.3 760.8h0M993 707.5h0M1022.4 727.1h0M946.1 710.8h0M996 635h0M969.5 692.3h0M1021 714.5h0M890.5 723h0M1023 640.8h0
M1041.1 662.4h0M1009.3 755.9h0M1024.1 702.7h0M1006.5 710.6h0M1025.5 728.6h0M952.7 727.2h0M997.1 712h0M941.5 768.8h0M971.8 672.7h0M958.9 731.1h0M1011.5 642.1h0M1028.4 662h0
M1034 715.5h0M1014.8 754.1h0M1016.7 652.3h0M974.1 670h0M936.9 665.5h0M1024.6 674h0M1041.4 653.6h0M970.3 674.1h0M971.7 766.9h0M907.4 727.5h0M929.9 733h0M958.2 633.4h0
M1005.8 744.7h0M1016.7 674.9h0M926.2 701.1h0M1025.5 676.9h0M920.4 697.1h0M992 639.8h0M889.4 719.6h0M971.5 737.7h0M972.2 663.6h0M904.3 739.6h0M1020.3 685.6h0M950.6 742.9h0
M1041.2 675.5h0M959.7 732.7h0M928.1 706.9h0M905.5 731h0M1029 702.3h0M1018.7 662.9h0M1048.4 685.3h0M975.6 684.3h0M968.6 707.9h0M997.3 681.7h0M981.8 756.1h0M1049.1 677.8h0
M1018.5 748.9h0M995.7 655.3h0M1025 741.1h0M945 751.7h0M1043.5 672.1h0M933.5 716.3h0M1037.9 707.7h0M1044.6 658h0M1016.6 700.8h0M927.4 683h0M909.2 713.7h0M992.8 698.8h0
M987.5 736.4h0M985.7 634.4h0M959 691.3h0M936.3 750.8h0M968.9 754.3h0M921.7 726.7h0M993.8 771.2h0M1016.4 677.2h0M923.9 710.8h0M951.8 738.8h0M1013.5 747.3h0M1030.9 661.8h0
M969.1 722.4h0M926.2 767.8h0M986.8 705.9h0M988.1 680.5h0M1031.5 652h0M918.7 741h0M940.4 730.9h0M1046.5 660.4h0M960.6 721.5h0M910.8 737.5h0M903.6 726.1h0M1003.6 656.6h0
M959.5 645.9h0M1017.4 752.7h0M974.9 678.5h0M948.2 730h0M927.3 708.1h0M920.4 728.5h0M941.6 724.1h0M1023.1 724.8h0M1000.5 757.2h0M1025.7 682.5h0M956.9 709.3h0M1023.7 722h0
M1009.8 699h0M911.7 761.4h0M975.2 776.5h0M981.4 723.6h0M936 689.8h0M899.8 732.2h0M984.1 645.2h0M1001.2 684.9h0M968 773.1h0M904.5 756.6h0M941.7 775h0M977.9 771.6h0
M989.5 685.2h0M970.8 680.6h0M980.1 756.7h0M933.5 704.2h0M1050.5 695.2h0M1009.2 732.5h0M1010 651.2h0M953.4 767h0M1023.2 658.1h0M962 672.5h0M923 696h0M899.6 738.2h0
M1012.1 717.5h0M1003 630.6h0M984.9 767.7h0M924.9 768.7h0M961.5 707.6h0M1023.5 746h0M913.3 764.3h0M914.2 761.9h0M1036.5 645.5h0M960.8 655.7h0M909 754.9h0M993.8 727.2h0
M1036 666.3h0M992.9 726.2h0M977 680.2h0M1014.8 761h0M1036.3 663.3h0M941 673.6h0M910.4 766.3h0M957.9 773.9h0M962.9 637.6h0M895.1 724.3h0M895.2 728.6h0M956.4 701.6h0
M935 680.2h0M923.5 740.4h0M954.9 757.2h0M1001.5 708.6h0M995.6 704.6h0M1001.8 677.2h0M1003.5 686.9h0M974 666.4h0M922.9 676.1h0M899.2 719.3h0M967.1 659.7h0M911.2 742.8h0
M981.9 636.4h0M973.1 660.1h0M1007.5 754.7h0M960.4 738h0M1006.4 721.6h0M900 722.9h0M961.3 771.7h0M936.5 678.2h0M990.7 700.1h0M928.9 778.4h0M1016.4 691.5h0M1008.9 764.6h0
M991.1 750.6h0M933.8 700.7h0M934.7 735.5h0M949 717.8h0M901.4 771.3h0M931.8 699.8h0M905.1 724.8h0M1034.5 684.7h0M957.6 699.3h0M913.6 729.1h0M887 712.9h0M903.4 780.1h0
M984.1 712.1h0M1039 687.1h0M939.1 661.1h0M957.7 778.3h0M986.1 776.9h0M977.6 720.4h0M938.5 726.4h0M1016.5 727.5h0M1041.8 683.3h0M1032.8 705.8h0M1003.1 673.8h0M917.2 701h0
M1013.2 661.8h0M967.5 751.2h0M1014.9 705.1h0M983.5 659.6h0M925.6 685.4h0M998.3 650h0M976.2 761.7h0M929.9 772.1h0M1048.4 682.3h0M922.9 755.8h0M918.1 726.4h0M1033.8 646.2h0
M912.1 766.5h0M929.3 770.4h0M938 768.8h0M995.5 674.6h0M919.1 688.2h0M919.4 756.5h0M998.9 774.5h0M955.6 746.8h0M954.9 759.3h0M976 737.3h0M1017.6 645.8h0M1030.2 654.1h0
M1001 725h0M980.2 715.9h0M956.9 675.3h0M1035.1 713.2h0M976.3 708.9h0M945.3 691.1h0M899.5 710.9h0M1037.7 643.4h0M994.5 653.4h0M977.2 758.9h0M992.2 643h0M1015.9 663.7h0
M1046 687.1h0M943.3 673.5h0M991.8 741.2h0M919.8 764.1h0M989.6 675.2h0M961.5 715.8h0M942.2 668h0M944.3 684h0M960.4 759.8h0M987.9 729.1h0M986.9 673.6h0M968.7 747.3h0
M990.3 656.6h0M986.1 696.1h0M983.1 692.3h0M937.7 700.8h0M975.8 763.5h0M946.4 700.9h0M954.1 717.3h0M888.1 722.5h0M908.6 770.3h0M970.4 703.3h0M1017.1 636h0M1030.8 708.5h0
M900.4 777h0M1001.4 661.4h0M954.2 678.2h0M950.8 722.2h0M958.1 689.1h0M970.4 647.2h0M959.1 764.8h0M935.2 687.3h0M929.3 691.1h0M1050 668.8h0M1021.3 744.2h0M1046.2 675.4h0
M924.5 729.7h0M975.7 710.9h0M951.4 765.3h0M921.7 690.4h0M1042 678.8h0M949.9 773.5h0M942.3 732.1h0M1009 654.2h0M995.7 708.5h0M986.9 662.2h0M990.7 686.4h0M975.3 681.3h0
M968.3 767.3h0M968.8 775.9h0M968.7 697.7h0M929.4 751h0M961.2 661.2h0M1044 654.6h0M918.3 780h0M949.3 734.2h0M944.3 748.5h0M943.7 738.4h0M971.8 731.2h0M985.1 765.8h0
M1002.8 634.8h0M925.2 776h0M994.4 759.7h0M968.5 737.6h0M984.2 708.8h0M912.3 769.8h0M1033.4 682.2h0M962.9 680.1h0M999.7 766.8h0M998.8 724.3h0M908.1 725.5h0M960.2 690.4h0
M956.9 711h0M974.4 662.9h0M969.7 636.7h0M1045.6 654.7h0M992.8 739.8h0M959.7 703.1h0M950.6 729.4h0M1053.4 670.2h0M994 656.4h0M952.2 722.6h0M967.4 677.7h0M941.1 663.8h0
M1020 655.1h0M982.4 673.7h0M962.3 741.4h0M1023.3 707.1h0M887.2 724.9h0M997.9 752.8h0M995.4 643.2h0M923 708.9h0M915.1 727.2h0M902 726.2h0M963.8 753.7h0M1003 645.5h0
M1001.2 712.4h0M997.7 630.2h0M930.4 694.6h0M1041.3 663.9h0M973.1 646.2h0M931.4 743.2h0M923.2 770.3h0M952.7 774.2h0M931.4 668.6h0M903.6 766.9h0M982.4 731.7h0M1038.3 690.3h0
M1029.7 712.2h0M1015.5 647.2h0M933.1 730.3h0M1025.9 669.2h0M934.6 725.9h0M991 651.2h0M1001.2 629.9h0M976.3 658.2h0M1031.2 644.8h0M918.3 691.2h0M951 719.8h0M895.7 719.8h0
M1015.7 708.2h0M963.6 696.1h0M920.6 706.8h0M932.9 738h0M973 746.5h0M1046 672.2h0M913.3 740.2h0M993.7 743.8h0M938.8 716.4h0M938.8 664.5h0M979.7 729.3h0M1004.5 682.8h0
M972.7 665.3h0M1029.7 722.5h0M977.1 703.8h0M1036.1 674.4h0M966.3 757.7h0M987.2 726.9h0M1005 701.2h0M1009.2 735.9h0M956.9 718.7h0M1024.3 713.7h0M1041.6 698.6h0M934.5 753.5h0
M951.5 708.9h0M967.9 634.2h0M1013.3 642.5h0M957.5 640.1h0M992.6 662h0M950.3 656.7h0M979.9 742.5h0M934.7 775.1h0M994.7 667.9h0M954.3 689.7h0M1002 750.7h0M1044 665.5h0
M940.6 737.2h0M998.9 738.6h0M1009.5 644.4h0M1024.9 655.2h0M952.9 700.9h0M1012 670.6h0M985.6 759.7h0M991.2 641.3h0M956 660.4h0M1003.9 642.6h0M1018.4 742.5h0M939.4 714.5h0
M964.9 675.5h0M961.8 782.7h0M932.5 713.3h0M995.1 751.9h0M955.5 677.8h0M914.9 736.8h0M920.6 710.3h0M1036 682.9h0M959 650.3h0M1000.7 732.6h0M1018.5 648.6h0M1012.5 687.2h0
M952.2 699.2h0M959.2 755.7h0M957.4 658.9h0M992.8 668h0M991 760h0M963.5 691.8h0M892.1 728.8h0M943 678.6h0M924.2 718.4h0M967.7 742.4h0M916.7 747.2h0M964 667.8h0
M930.9 678.5h0M1009.5 648.8h0M945.1 719.6h0M1044.5 688.4h0M984.5 772.2h0M1014.6 670.3h0M1003.2 723.3h0M973.6 683.5h0M1017.7 738.9h0M977.8 760.6h0M919.2 738.6h0M1016.1 733.3h0
M1013.8 652.7h0M1007.8 723.3h0M966.9 661h0M1010.8 711.9h0M979.3 675.2h0M991.3 668h0M963.9 634.2h0M963.3 678.2h0M968.6 699.9h0M1028.7 665.4h0M1046.5 688.5h0M934.3 712.1h0
M965.4 649.7h0M968.8 739.2h0M913.3 768.4h0M947.8 682.6h0M986.8 775.3h0M933.9 681h0M1028.7 641h0M987.7 647.7h0M1006.3 676.3h0M918.7 694.7h0M1027.1 671.6h0M921.8 748.2h0
M955.1 741.2h0M987.1 764.8h0M998.3 731.3h0M914.4 705h0M1005.8 764.8h0M965.8 657.6h0M1041.8 655.7h0M933.1 732.8h0M1012.1 709.8h0M1008.9 661h0M939.5 700.3h0M972.4 691.3h0
M1004.4 663.8h0M998 704.5h0M1022.2 648h0M932 665.2h0M1007.4 702.8h0M969 684.4h0M971.8 643.8h0M985.5 751.8h0M963.9 722.9h0M989.1 700.2h0M955.9 655.2h0M1003.6 751.6h0
M1005.4 681.7h0M929.6 695.7h0M951.2 683.2h0M1041.7 702.3h0M997.3 741.5h0M989.3 719.2h0M899.8 717.2h0M934.3 741h0M916.6 776.8h0M930 724.7h0M980.4 693.2h0M986.4 637.7h0
M1009.2 759h0M960.1 692.5h0M958.9 725.9h0M947.9 663.6h0M1007 736.2h0M950.4 661.9h0M979.7 696.6h0M984.9 655.6h0M953.9 736.1h0M1009.5 659.8h0M964.5 721.7h0M1022.6 694.3h0
M1025.6 720.6h0M1021 754.1h0M948.7 738.1h0M1038.1 669.5h0M963.9 673.5h0M1046.9 669.8h0M943.1 749.9h0M987.3 691.6h0M941.9 690.3h0M984 701.4h0M933.7 695.9h0M997.6 662.8h0
M1020.5 729.2h0M980 715.2h0M976.8 697.8h0M998.7 719.1h0M990.3 770.5h0M985.5 758.8h0M909.7 769.7h0M955.2 711h0M907.4 783.4h0M955.2 744.7h0M950.3 744.1h0M959.1 682.3h0
M991.2 684.6h0M973.4 722.7h0M962.7 703.5h0M1009.5 711.1h0M961.1 719.4h0M1003 738.1h0M926.2 747.9h0M963 773.3h0M1002.8 702.6h0M969 776.7h0M953.9 718.8h0M948 713.9h0
M953.8 768.8h0M984.4 766.9h0M953.5 724.2h0M998.9 739.3h0M959.2 722.1h0M1029.2 709.3h0M954.8 755h0M988.4 752.5h0M943.5 714.6h0M933.3 778.1h0M954.3 752.3h0M1026.3 665.1h0
M910.3 749.3h0M1028.2 699.2h0M960.2 717.2h0M901.1 774.1h0M1005.3 762.6h0M974.8 677.8h0M972.1 689.5h0M987.1 668.6h0M970.4 674.9h0M947.2 754.7h0M980 655.2h0M992.2 687.6h0
M1040.3 670.8h0M982 721.8h0M1014.5 680.5h0M989.7 759.6h0M946.1 770.8h0M946.9 729.4h0M941.7 717.4h0M980.5 704.8h0M906.2 785.4h0M1015.9 644.4h0M939.3 767.4h0M956.5 678.2h0
M1001.2 721h0M949.6 747.3h0M966.3 759.2h0M915.1 762.5h0M978.7 672.1h0M921.1 771.4h0M1006.3 716.3h0M1005.1 712.9h0M948 723.9h0M974.3 662.7h0M982.6 759.1h0M914.9 749h0
M984.6 646.6h0M973.5 686.1h0M966.3 749.1h0M1022.2 664.1h0M1026 719.6h0M1025.4 650.4h0M994.3 722.2h0M1017.1 658.1h0M957.1 695.9h0M938 763.4h0M928.2 761h0M999 770.2h0
M984.5 703.4h0M997.4 643.7h0M938 773h0M927 772.2h0M959.7 678.8h0M1029.4 684.7h0M953.2 702.8h0M992.1 745.4h0M949.4 725.9h0M904.6 760.1h0M1005.6 670.4h0M1010.5 732.7h0
M1021.3 701.7h0M976.4 768.4h0M969.3 706.9h0M983.5 714.6h0M945.2 721.7h0M904.8 774.1h0M933.7 731.6h0M986.7 728.5h0M911.2 767.3h0M971 734.7h0M987.6 652.4h0M978.5 687.9h0
M991.2 719.8h0M930.8 763.3h0M1011 726.5h0M1005.9 725.5h0M1028 652.9h0M933.5 736.8h0M968.2 738h0M995 752.8h0M999.6 747h0M1033.5 659.2h0M1005.5 658.8h0M978.7 691h0
M956.3 683.8h0M1001.2 723.7h0M956.7 732.4h0M965.9 751.9h0M959 708.8h0M1022 704.9h0M981.8 756h0M942.5 720.7h0M949.7 689.6h0M1034.5 691.8h0M978 764.7h0M938.4 770.2h0
M983.2 711.2h0M985.5 699.2h0M1037.1 684h0M1029.9 661h0M970.5 670.8h0M1019.8 743h0M1013.8 701.6h0M977.7 747.7h0M957.8 675.4h0M1007.8 699.1h0M993.4 708.3h0M959.8 734.2h0
M965.3 701.4h0M928.4 754.4h0M1012 692.1h0M985.2 742.1h0M1024.1 725.3h0M1017.5 744.1h0M911.9 775.8h0M903.9 784.5h0M1027.6 725.4h0M997.1 648.4h0M1019.9 726.9h0M1009.9 754.5h0
M946.2 742.4h0M992.4 655.3h0M969.7 657.6h0M907.5 770.5h0M961.6 691.7h0M964.6 680.3h0M1036.9 662.6h0M949.7 699.2h0M1007.8 761.5h0M908.2 776.2h0M996.3 727.8h0M988 724.9h0
M995.3 706.7h0M951.2 720.9h0M985.1 724.6h0M988.4 764.2h0M1011.8 715.5h0M962.6 763.3h0M1001.5 699.9h0M921.7 758.4h0M1009.1 669h0M968.5 662.3h0M1016 669.4h0M1002.3 674.9h0
M1032.8 682h0M1009 694.4h0M1006.8 689.8h0M940.5 748h0M1003.5 746.9h0M950.4 685.6h0M968.8 687h0M964.7 726.1h0M1014.8 684.3h0M1018.2 678.3h0M999.2 715.3h0M951.8 735h0
M970.2 679.3h0M977.3 714.9h0M936.7 722.6h0M955.6 771.7h0M917.4 741.8h0M988.7 740.8h0M979 733.8h0M1010.4 705.6h0M963.3 714.3h0M967.2 765.5h0M955.8 759.5h0M979.1 740.3h0
M1017.6 647h0M997.9 689.3h0M1027.1 692.2h0M1015 728.9h0M1019.3 695.9h0M978.6 694.6h0M989 660.7h0M931.6 741.6h0M1016.2 653.2h0M976.6 725.7h0M913.1 771.4h0M971 667.5h0
M988.6 747.2h0M997.3 696.6h0M999.4 669h0M951 750.6h0M1002.2 718.1h0M932.7 739.3h0M1020.7 714.9h0M1017.7 708.8h0M931.7 734.1h0M951.3 771h0M1013.3 695.2h0M1000.8 648.2h0
M980.8 696.5h0M916.9 733.7h0M943.7 725.7h0M1016.2 739h0M1033.3 694.8h0M1035.6 680.7h0M1000.9 679.2h0M981.3 735.1h0M944.2 733.3h0M904.3 770.2h0M962.3 726.1h0M918.5 761.5h0
M972.4 731.5h0M1040.5 667.8h0M1026.4 684.2h0M990.1 676.2h0M953.2 707.7h0M933.2 755.5h0M987.6 690.8h0M928.3 750h0M919 732.3h0M903.1 758.4h0M1004.9 732.3h0M1004.8 650.3h0
M940.5 757.5h0M961.2 766.5h0M1038.8 676.9h0M967.6 770.2h0M956.2 764.5h0M1001.6 672.6h0M1012.8 676.3h0M960.8 684.7h0M978 663.2h0M971.9 755.1h0M990.6 738.4h0M987.7 771h0
M929 746.8h0M964 735h0M973.7 692.9h0M974.1 719.4h0M937.1 732.2h0M1020.8 683h0M941.1 773.7h0M959 776.4h0M1022.8 679.6h0M997.7 653.3h0M1009.3 701.2h0M990.7 725.1h0
M973.7 648.8h0M907.8 754.7h0M986.4 718.1h0M958 760.4h0M980.2 692.8h0M922 748.3h0M988.7 671.6h0M995.9 665.4h0M1004.3 729h0M1028.6 719.4h0M917.1 780.9h0M988.8 717.2h0
M1024 656h0M1038.5 666.6h0M983.2 667.9h0M1010.9 680h0M1023.9 701.6h0M907.1 744.6h0M995 694.3h0M961.8 682.5h0M1005.9 722.3h0M977.4 657h0M975.7 674.1h0M923.2 781.8h0
M967.6 705.2h0M930.5 774.8h0M998.1 679.7h0M1018.5 672.6h0M946.9 732.8h0M900.2 777.8h0M959.6 763.2h0M917.9 736h0M1006 674.6h0M978.3 678.3h0M972.3 746.1h0M969.8 709.8h0
M941.6 779.4h0M989.3 733.6h0M1014.8 718h0M977.3 738.9h0M923.3 776.4h0M1013.1 709.4h0M1015.3 746.7h0M985.5 754h0M954.1 714.3h0M909.2 778.8h0M948.5 761.8h0M960.5 697.8h0
M946.3 736.2h0M1011 661.2h0M963.7 717.2h0M910.7 761.2h0M1019.5 659.6h0M967.2 709.7h0M951.7 766.4h0M971.4 700.8h0M960.7 706.9h0M966.5 694.3h0M995.8 715.3h0M978.6 717.2h0
M1004.3 720.2h0M1013.4 647.5h0M966.4 683.4h0M948.8 735.4h0M956 776.9h0M991.5 658.1h0M1009.3 674.4h0M973.3 765.8h0M1030.2 691.9h0M984.7 693h0M923.9 740.1h0M947.1 779.3h0
M957.1 755.9h0M956.6 720.3h0M949.3 741.9h0M949.4 705.4h0M914.8 766.9h0M986.7 756.4h0M956.7 747.2h0M969.2 752.6h0M929.7 757.1h0M977.4 711.3h0M1013.3 650h0M999.1 727.3h0
M937.1 724.9h0M951.7 756.3h0M996.7 768.8h0M1025.8 667.8h0M958.2 769.6h0M1012.3 643.9h0M988.3 697.9h0M976.7 670.1h0M1005.7 709.9h0M979 659.5h0M943.7 706.2h0M1004.3 687.3h0
M989.7 654.5h0M975 731.4h0M915.9 771.8h0M1001.1 709.7h0M959 730.5h0M1001 729.4h0M1010.3 719.5h0M1019.5 698.2h0M968.6 722h0M918.9 769.3h0M970.7 739.7h0M983.1 732.6h0
M941.8 735.5h0M953.9 736.3h0M983.2 725.9h0M983.9 769.1h0M993 730h0M1013.3 726.8h0M974.6 705.4h0M1010.6 751h0M987.5 682.8h0M1014.9 713.7h0M994.8 646.2h0M978.5 652.3h0
M957 698.8h0M937.1 746.1h0M959.5 751h0M1004.4 696.1h0M1006.9 696.5h0M1026.8 697.1h0M986.1 715.5h0M1020.9 661.4h0M987.9 685.5h0M918.1 783h0M911.5 739.3h0M1002.6 653.7h0
M931.9 760.2h0M937.2 760.6h0M1001.6 732.7h0M1020.4 680h0M981.9 659.9h0M1006.3 745.7h0M979.8 710.9h0M991.7 766.9h0M972.3 713.7h0M972 761.5h0M1032.4 677.2h0M1002.2 644.6h0
M973.3 709.7h0M1006.6 733.8h0M1017.6 751.5h0M927.9 735.5h0M989.6 705.4h0M1006.5 707.8h0M963.5 751.7h0M965.3 731.4h0M1022.4 695.3h0M1018.7 724h0M974.7 763.5h0M945.8 727.5h0
M965.3 713h0M940.7 706.6h0M993.8 667.7h0M957.9 742.7h0M904.1 778.7h0M963.9 767.6h0M996.6 733.8h0M978.3 757h0M974.7 717.2h0M914.9 746.4h0M975 755.2h0M958.1 727.5h0
M1011.3 655.9h0M906.7 748h0M1005.4 736h0M982.5 753.4h0M995.2 755.4h0M987.4 695h0M965.5 754.2h0M1025.5 731.2h0M954.5 676.8h0M942.2 767.1h0M995.4 704h0M916.6 754.5h0
M960.6 672.8h0M925.1 769.1h0M999.6 642.6h0M925.5 737.8h0M971.5 728.9h0M1007.5 661.4h0M951 758.5h0M958.7 702.4h0M995.5 679h0M1024.2 708.9h0M928.1 741h0M1011.1 652.5h0
M945 697.3h0M955 697.6h0M944.5 779.7h0M1031.1 657.3h0M989.2 773.7h0M947.1 765.5h0M939.8 739.9h0M978.6 675.8h0M1021.4 730.2h0M1019.9 720.5h0M907.8 750.4h0M1022.6 691.3h0
M987.7 680.1h0M926.7 758.7h0M952.3 776.4h0M983.2 773h0M944 775.6h0M983.5 737.6h0M1010.7 721.9h0M982.8 678.9h0M981.6 763.6h0M983.2 662.7h0M987.8 687.9h0M937.5 757.1h0
M939.9 720.7h0M976.8 760h0M929.2 739h0M970.9 720.7h0M1000.6 688.7h0M973.3 672.1h0M970.5 716.6h0M1027.5 681.2h0M1023.3 736.9h0M935.8 747.9h0M968 672h0M995.5 681.5h0
M955.7 686h0M1017.2 675.7h0M974.2 744.2h0M985.4 654.3h0M972.3 656.3h0M1031.9 685.7h0M947 719.1h0M994.1 726.4h0M924.5 753.9h0M991.4 750.4h0M963.3 700h0M986.7 735.2h0
M918.7 778h0M1023.6 697.9h0M947 739.3h0M951 730.8h0M927.6 726.7h0M964.8 692.6h0M979.8 648.7h0M1013.6 723h0M990.9 708.3h0M959.6 736.8h0M993.1 673h0M970.2 664.1h0
M932.9 769.3h0M951.6 696.8h0M1020.1 674.8h0M914.3 759.5h0M1001.4 760.5h0M996.8 743.8h0M939.9 714.4h0M984.5 673.7h0M926.9 779.3h0M964.3 756.2h0M1012.4 689.6h0M970.3 684.6h0
M968.9 773.9h0M965.2 740.4h0M941.9 771.4h0M920.9 729.8h0M985 730.1h0M1017.4 694.4h0M987 657.6h0M1010.1 677h0M941.7 712.6h0M988.9 666.2h0M909.3 752.3h0M986.8 731.6h0
M911.8 778.1h0M929.9 752.1h0M986.1 761.4h0M1038.5 674.2h0M980.1 744.2h0M962.6 697.2h0M961.8 689.3h0M1001.2 667.5h0M948.5 696.6h0M991.1 742.5h0M951.5 711.5h0M953.2 762.5h0
M979.3 683.6h0M948.6 758h0M1001.3 742.3h0M935.5 742h0M1033.6 671.3h0M940.5 762.3h0M955 692.8h0M1002.4 755.5h0M964.8 670.2h0M994.3 649h0M1007.7 735.9h0M961.7 730.1h0
M975 681.5h0M1003.6 766h0M961.8 748.3h0M1014.4 671.5h0M1022.5 667.7h0M912.2 782.1h0M914.8 737.5h0M1014.1 743.1h0M1024.8 652.5h0M1025.6 670.6h0M957.4 690.4h0M1025.1 729h0
M992.1 645.3h0M1010.6 665.2h0M907.2 761.8h0M980.7 689.7h0M974.7 738.3h0M951.8 688.4h0M997.4 730.1h0M967 677.9h0M995.4 700.9h0M1005.7 757.2h0M971 660.6h0M1003.5 694h0
M995.3 690.2h0M924.8 761.7h0M964.8 664h0M1012.3 658.1h0M913.3 754.9h0M1013.9 738.5h0M972.1 758.2h0M982.5 740h0M991.9 697.7h0M1005 661.4h0M1009.8 682.4h0M1017.2 733.6h0
M997.7 699.4h0M980.5 759.9h0M945.1 712.4h0M1009.3 724.8h0M1020.3 685.8h0M938.4 736h0M985.8 764.6h0M962.9 776.7h0M991.1 702.7h0M976.7 751.9h0M999.1 657.4h0M939.9 723.3h0
M1012.8 729.5h0M1025.1 682.2h0M998 754h0M988.2 710.2h0M994.6 767h0M1014.4 749.4h0M1044 677.8h0M982.4 692.4h0M951.9 692.2h0M981.3 650.9h0M999 660.9h0M968.8 689.5h0
M1019.8 747.2h0M914 740.1h0M1022 739.3h0M969.8 653h0M985.3 720.4h0M1004.7 749.3h0M1034.5 675.3h0M985.8 748.3h0M1025.6 715.3h0M920.5 739.3h0M1012.5 673.2h0M938.6 753.2h0
M957.6 723.7h0M953.2 740.1h0M1006.9 679.6h0M985.6 775.1h0M993.6 716h0M1005.5 676.8h0M1016 698.1h0M1029 705.7h0M910.7 745.5h0M1004.5 700.4h0M931.5 726.5h0M931 730.3h0
M990.1 693.7h0M992 651h0M995.5 676.4h0M1023.3 712h0M903.5 754.8h0M1002.2 683.5h0M944.6 738.5h0M962.6 737h0M1027.7 703.3h0M971.6 773.4h0M1015.5 710.6h0M934.3 751.6h0
M982.8 746.8h0M1010.6 686.5h0M976.8 773.5h0M981.6 671.4h0M1001.3 765.4h0M994.3 757.5h0M988.8 720.1h0M959.2 712.8h0M1000.1 705.5h0M980.9 767.9h0M928.1 766.3h0M923.5 763.7h0
M994.5 670.9h0M1009.2 647h0M991.9 661.9h0M952.2 700.6h0M997.1 662.6h0M939.9 731.2h0M1027.3 657.4h0M916.1 744h0M1030.9 712.9h0M1004.7 655.6h0M956.1 703.5h0M975.8 666.6h0
M969.1 701.1h0M905.9 764.4h0M941.2 742.5h0M993.2 772.2h0M982.8 729.5h0M968.7 740.9h0M964.2 686h0M998.2 666.6h0M1020.9 734.5h0M990.4 756.6h0M916.7 764.2h0M980.5 746.4h0
M982.4 700.3h0M1001.1 751h0M934.3 758.9h0M987.7 673.9h0M915.3 776.6h0M987.4 677.4h0M1014.1 660h0M956.6 736.8h0M942.8 730.1h0M1023.1 731.9h0M917.7 774.9h0M996.7 672.4h0
M955 729.9h0M997.1 749.3h0M960.6 755.7h0M980.9 674.7h0M965 697.8h0M981.2 775.2h0M1033.3 667.8h0M1009.4 663.3h0M970 770h0M928.4 769.5h0M959.3 744.6h0M966.6 685.7h0
M980.3 771.3h0M1018.1 651h0M1031.6 706.2h0M906.3 778.9h0M947.4 692h0M1020.9 708.7h0M975.1 653.2h0M1042.3 680h0M949.7 718.8h0M943.2 701h0M970.7 703.3h0M961.6 712.3h0
M993.6 711.9h0M943.7 762.3h0M1016.2 661.1h0M956 726.3h0M984 657.4h0M957.1 713.7h0M1005.1 682.9h0M1028.8 663.7h0M1012.7 746h0M1025 677.8h0M963 723.6h0M932.8 746.4h0
M1007.4 656.1h0M963.3 720.8h0M1005.7 740.3h0M925.4 735.2h0M950.5 763.9h0M1021.4 672.3h0M970.7 691.7h0M1032.3 692.7h0M1019.9 706.4h0M955.3 688.3h0M979.8 726.5h0M920.3 736.7h0
M995.8 712h0M931.5 771.5h0M920.1 756h0M959.9 778.9h0M960.2 774.5h0M1010 744.3h0M960.9 740.4h0M1014.7 666.3h0M927.5 745h0M990.7 689.9h0M906.3 781.5h0M921.5 741.8h0
M967.1 665.7h0M963.1 710.3h0M1033.2 697h0M965.7 775.1h0M1034.4 683.6h0M984.2 689.2h0M994.3 653.4h0M911.1 773.4h0M998.2 708.2h0M1005 705.7h0M1025.8 687.9h0M992.4 679.5h0
M993.9 742.9h0M950.7 737.5h0M1011.6 670.7h0M975.7 733.7h0M965.4 718.7h0M1006.8 648.5h0M1033 661.8h0M921.9 745.6h0M962.9 746.2h0M1016.9 704.9h0M976.1 757.5h0M1023.4 716.5h0
M923.1 767.6h0M953.1 685.8h0M1015.2 752.2h0M953.4 726.6h0M999.9 757.8h0M983 744.5h0M1032.3 700h0M996.6 746.7h0M991.7 670.3h0M1025.2 705.9h0M1031.7 688.4h0M973 675h0
M923.3 729.4h0M946.1 773.7h0M920.2 779.9h0M964.4 676h0M1007.7 683.8h0M996.7 684.3h0M1012.1 711.7h0M994.5 659h0M1026.9 655h0M973.5 735.2h0M982.4 681.8h0M1010.5 738.7h0
M944.9 759.9h0M950.8 723.4h0M1007.5 728.1h0M1002.5 691.4h0M941.7 749.9h0M965.3 704.6h0M969 760.3h0M1026.5 711h0M962.4 669.7h0M951 768.8h0M1005.6 743.3h0M975 655.9h0
M999.3 684.2h0M1002.2 662.8h0M968.7 713.1h0M999.7 663.5h0M1041.2 675.7h0M1016.9 720.1h0M1029.9 673.3h0M945.5 752h0M927.7 732.5h0M953.9 690.4h0M985.8 744.9h0M1014.6 687.6h0
M1027.7 677.8h0M910.3 756.9h0M961.3 758.8h0M1013.7 731.6h0M973.1 698h0M1009.5 729.9h0M1028.8 689.1h0M1007.5 666.2h0M955.3 739.2h0M934.4 775.5h0M1042.7 673.7h0M1004.4 646.1h0
M1024.4 672.8h0M948.4 711h0M970.5 764.4h0M973.7 772.8h0M917.3 767.4h0M969.5 745h0M991.3 714.2h0M928.6 777.6h0M995.2 686.7h0M1022 718.3h0M977.9 742.3h0M1028.1 713.9h0
M1016.8 731.1h0M966.2 689.6h0M972.9 683.1h0M1026.7 723.2h0M958.1 671.2h0M962.9 673.1h0M990.8 664.1h0M1004.7 665.9h0M981.9 702.5h0M974.3 769.7h0M907.1 773.2h0M1009.1 644.2h0
M978.3 666h0M962.4 666.5h0M934.6 766.9h0M949.3 773.3h0M953.6 683.1h0M978.6 729.1h0M1013 741h0M1019 749.3h0M1018.6 654.9h0M967.3 743.6h0M914.7 784.3h0M1039.1 681h0
M997.6 693.9h0M938.8 775.6h0M1035.8 686.6h0M936.9 765.7h0M1019.4 668.6h0M977.8 700.8h0M917.6 739.1h0M997.6 702.6h0M892.9 623.1h0M898.2 696.8h0M1051.6 696.8h0M1041.1 710.3h0
M1025.4 750.5h0M351.1 720.3h0M349.7 739.9h0M358.9 725.1h0M318.9 733.2h0M354.6 749.2h0M344 722.2h0M355.4 723.8h0M352.7 750.7h0M350.7 724h0M343.6 752.9h0M339.7 744.8h0
M359.1 730.5h0M322.2 741.9h0M349 742.9h0M326.8 737.6h0M327.1 730.6h0M338.7 729.3h0M339.3 739.1h0M355.1 729.4h0M324.3 737.5h0M347 741.5h0M358.4 717.9h0M350 753.5h0
M332.1 732.5h0M340.9 717.5h0M343.1 724.4h0M329.8 747.1h0M324.5 740.6h0M355.6 737h0M357.4 734.5h0M341.6 728.1h0M338.1 725.9h0M343.1 743.4h0M332.7 735.9h0M324.7 725.2h0
M330.2 740.2h0M323.2 733.6h0M337.2 751h0M333.5 723.8h0M337.6 737.3h0M337.4 720h0M348.1 726h0M346.6 737.8h0M353.3 746h0M335.8 732h0M340.8 721.6h0M337.1 723.1h0
M351.1 727h0M357.8 721h0M359.9 741h0M342.5 732.8h0M346.1 719.7h0M330.4 726.1h0M322.1 729.8h0M345.1 735.1h0M360.4 736.8h0M341.8 737.7h0M354.2 739.9h0M355 732.6h0
M318.9 740.2h0M340.6 751.6h0M335.1 728.3h0M328.7 723.1h0M345.3 747.2h0M338.6 749h0M333.5 738.9h0M338.7 732h0M340.9 725.8h0M343.8 740h0M349.4 731.4h0M349.6 746.6h0
M335.9 745.8h0M320.9 735h0M354.4 718.8h0M356 742.1h0M333.2 726.9h0M331.5 722.2h0M347.7 734.1h0M355 726.6h0M361.6 727.2h0M349.3 736.2h0M348.6 717.6h0M332.2 741.7h0
M327.2 734.9h0M334.3 720.6h0M385.5 756.7h0M375 754.3h0M377.9 764.5h0M378.7 742.1h0M377.5 749.4h0M366.1 736.1h0M363.5 727.9h0M372.4 738.8h0M361.8 749h0M376.7 738.7h0
M369 725.4h0M382.9 756h0M382.6 746h0M375.1 730.9h0M366 738.9h0M365.4 731h0M381.4 748.3h0M383.9 750.1h0M364 754.2h0M374.8 751.5h0M373.3 734.3h0M373.3 747.5h0
M376.6 728.2h0M315.3 758.9h0M314.7 761.4h0M331.7 757.9h0M330.7 780.2h0M331.1 753.1h0M312.7 769.5h0M325 776.8h0M325.2 765.3h0M339.3 767.6h0M316.8 764.6h0M326.3 755.2h0
M326.4 770.1h0M312.3 765.5h0M317.8 757.7h0M327.3 766.8h0M333.6 762.7h0M330.2 768.2h0M324.3 767.6h0M319.3 779.7h0M329.9 756.6h0M333 772.9h0M322.3 762.6h0M335 768.3h0
M337.1 754.2h0M322.3 753.3h0M318 751.5h0M316.5 770.2h0M335.1 766h0M325 780.7h0M323.1 777.6h0M329.5 771.7h0M314.5 780.7h0M335.3 760.4h0M337.1 751.8h0M310.6 778.8h0
M348.4 773.2h0M345.2 787.5h0M375.1 781.7h0M347.5 761.2h0M359 784.8h0M341 802.9h0M335.5 779.6h0M358.8 797.5h0M368.6 773.3h0M376 789.7h0M352.9 771.7h0M339.6 791.2h0
M364.1 784.1h0M351 762.7h0M381.1 771.7h0M357.9 776.1h0M345.7 767.7h0M381 780.5h0M350.5 756.3h0M344 763.9h0M360.7 800.5h0M355.4 763.5h0M340.2 767.6h0M374.1 794.8h0
M381.4 784.2h0M342.2 797h0M343 793.1h0M348.4 802.4h0M341.5 770.4h0M351.5 790.8h0M358.5 770.8h0M344.3 757.7h0M360 794.5h0M370.2 797.1h0M358.7 759.5h0M338.2 773.1h0
M355.6 771.9h0M352.2 759.5h0M337.7 797.8h0M357.7 801.6h0M352.6 765.5h0M365.2 773.3h0M355 793h0M359.8 773.1h0M339.1 779.3h0M347.6 765.5h0M356.3 798.3h0M354.6 784.2h0
M371.6 774.4h0M360.5 764.7h0M347.5 800.1h0M369.8 790.7h0M378.8 768.4h0M347.2 795.1h0M379 789.5h0M356 758.4h0M347.3 777.4h0M360 777.3h0M367.5 769.4h0M360.4 781h0
M374.9 773.2h0M378.8 776.4h0M361.7 767.6h0M354.1 777.4h0M371.7 788.5h0M377.6 774.4h0M344.9 782.3h0M383.6 781.9h0M370.3 794.6h0M343.2 774.8h0M361.5 762.2h0M350.3 776.1h0
M350.6 803.5h0M335.6 793.6h0M355.9 795.5h0M358.3 763.9h0M381.5 777.5h0M379.1 778.7h0M344.7 779.6h0M340.4 783.7h0M358.7 789.5h0M362 788.9h0M362.9 798.3h0M340.2 760.4h0
M368.6 767.4h0M374.3 777h0M369.2 779.7h0M369.7 785.2h0M366.6 783.1h0M378.5 781.5h0M372.6 791.2h0M351.4 794.4h0M366.6 786.6h0M375.9 770.7h0M373.6 771.3h0M364.2 778h0
M375.2 768.3h0M379.4 786.6h0M355.3 787.3h0M345.3 791.6h0M359.6 792.2h0M355.3 767.9h0M369.7 765.2h0M341.9 806.4h0M345.9 802.6h0M365.4 792.5h0M340.1 795.4h0M338.2 800.9h0
M363.4 780.9h0M346.2 784.9h0M367.2 776.6h0M343 766.5h0M336.8 785.8h0M367.4 798.7h0M355.6 782.1h0M336.6 776.7h0M351.3 801.3h0M345.2 755.5h0M349.4 770.1h0M374.9 785h0
M368 788.5h0M339.2 786.2h0M365.4 762.7h0M363.9 790.7h0M346.5 770.9h0M372.5 768.6h0M349.4 791.9h0M349.6 780.6h0M301.7 807.5h0M322.4 787.7h0M309.9 811.1h0M306.2 784.1h0
M330.9 792.6h0M317.8 794.7h0M306.3 786.4h0M327.7 799.7h0M326.7 812.1h0M305.7 809.2h0M327.7 791.8h0M310.1 804h0M319.7 796h0M324.4 787.7h0M313.4 806.6h0M321.7 802.2h0
M325.4 789.4h0M329.3 803.8h0M315.6 805.2h0M315.1 792.7h0M312.8 788.1h0M304.6 798.7h0M329.5 800.7h0M321.9 794h0M324.3 794.4h0M317.5 800h0M334.8 798.4h0M327.4 803.7h0
M315.9 798.3h0M337.5 807.3h0M326.1 814.2h0M315.2 810.8h0M303.9 786.1h0M333.1 797.1h0M301.7 802.2h0M312.9 810.5h0M314 797.4h0M305.2 805.3h0M324.6 809.7h0M323.3 805.6h0
M317.7 815.6h0M308.1 800.4h0M333 792.7h0M325.6 800.4h0M299.9 833.2h0M305.9 852.7h0M294.4 817.1h0M314.8 825.6h0M311.9 837.1h0M304.9 814.5h0M309.6 822.8h0M316.8 816.3h0
M298.8 828.2h0M311.9 839.9h0M321.4 820.2h0M296.8 818.5h0M302.5 821.1h0M298.8 842.5h0M296.7 839h0M300.4 855.8h0M294.2 824h0M291 818.4h0M301.1 849.6h0M290 834.1h0
M316.4 852.1h0M312.8 832.5h0M311.7 855.1h0M299 817h0M304.9 846.9h0M317.6 850.8h0M302.2 857.4h0M322.2 823.7h0M299.1 850.9h0M319.1 817.3h0M308.1 856.9h0M299.1 822.7h0
M303.5 849.4h0M293.9 830.2h0M323.9 827.3h0M308.1 832.9h0M300.1 852.6h0M318.8 846.9h0M319.9 822.2h0M301.8 815.8h0M314.9 850.8h0M311.5 826.1h0M291.6 827.8h0M309.1 826.8h0
M287.3 828.5h0M305.7 836.9h0M308.5 864.5h0M301.9 824.9h0M306.6 839.4h0M292.5 822.8h0M322.3 831h0M307.3 846.7h0M324.1 829.2h0M320.6 827.2h0M307 815.6h0M307.9 853.8h0
M302.9 847.2h0M294.7 836h0M289.5 831.2h0M317.7 825.4h0M302.9 852.8h0M293 836.1h0M304.4 822.2h0M311 832h0M289.4 821.4h0M291.1 843.6h0M319.3 823.9h0M322.9 816.4h0
M310.4 818.3h0M310.5 847h0M296.9 827.9h0M307.3 818.9h0M325.1 835.5h0M317.8 834.8h0M316.6 828h0M309.5 815.4h0M303.4 828.6h0M303.4 842.4h0M311.4 844.2h0M302.9 835.1h0
M306.5 842.8h0M311.4 823.4h0M296 845.9h0M299.2 844.6h0M318.4 843h0M297.9 814h0M290.9 820.6h0M302.5 831.6h0M311.2 816.1h0M289.7 840h0M390.1 840.7h0M347.7 823h0
M365.2 841.1h0M337.3 835.6h0M359.3 837.4h0M391.8 839.1h0M375.2 845h0M369 850.1h0M335.1 828.9h0M356.2 850.1h0M340.2 845.4h0M333.2 824.4h0M358.9 861h0M365 833.3h0
M350.1 809.3h0M370.6 821.5h0M350.2 856.1h0M377.9 822.1h0M386 831h0M341.6 840.7h0M337.1 848.4h0M396.5 828.4h0M331 830.5h0M386.6 840.5h0M388.9 827.8h0M351.1 862.6h0
M355.1 861h0M344.2 822h0M383.5 837.8h0M340.1 849h0M332.2 835.2h0M343.3 824.8h0M323.8 848.6h0M346.3 829.3h0M381.8 845.5h0M345.2 836.4h0M355.5 818.2h0M334.4 851.1h0
M361.4 810.8h0M380.7 813.2h0M339.7 825.4h0M376.6 834.8h0M395.4 825.8h0M381.6 825.7h0M341.6 851.4h0M367.7 823.1h0M347.3 832.5h0M384.8 827h0M337.9 824h0M364.5 809.9h0
M345.1 840.7h0M328.2 847h0M355.1 836.5h0M339.2 831.3h0M376.8 827.3h0M359.4 840.9h0M359.5 848.7h0M359.3 834.2h0M389.3 835h0M369.7 813.8h0M378.6 844.2h0M376.8 823.9h0
M335.4 838.1h0M329.8 854.3h0M333.9 827.4h0M371.5 810.8h0M386.1 824h0M330.4 816h0M369.5 809.9h0M383.9 815.9h0M337.6 817.3h0M363.5 836.1h0M385.8 815.3h0M365.9 813.8h0
M367.8 856.6h0M338.2 862.3h0M329.6 824.8h0M367.5 807.8h0M326.7 840.8h0M354.2 843.2h0M350.4 850h0M363.2 844.9h0M353.6 856.4h0M338 852.8h0M377.1 816.1h0M380.1 836.2h0
M355.4 845.4h0M391.6 835.4h0M338.4 840.6h0M347.7 861.3h0M337.6 855.3h0M370.5 836.1h0M366.6 845.6h0M328 857h0M329.7 861.9h0M398.6 827.3h0M335.1 817.1h0M333.3 837.3h0
M366.5 854.2h0M346.1 854h0M357.8 855.6h0M359.1 853.1h0M373.3 837.1h0M350.5 823.8h0M350.9 818.4h0M348.3 863.7h0M362.9 838.1h0M326.2 837.4h0M391 819.4h0M352.9 807.8h0
M343.1 820.4h0M340.4 854.3h0M353.4 810.8h0M340.2 864.2h0M365.2 849.2h0M336.3 840h0M366.8 843.5h0M373.2 849.1h0M329.7 851.1h0M357 846.9h0M364.1 821.4h0M380.7 842.1h0
M333.6 864.5h0M361.9 821.8h0M333.9 860.6h0M394.9 834.8h0M357.2 839.1h0M328.4 833h0M325.1 844.2h0M355.8 853.2h0M368 812.3h0M320.3 855.8h0M369.6 856h0M356.6 857.4h0
M355.6 822.2h0M354.8 813.5h0M336.7 820.8h0M357 833.6h0M352.4 844.5h0M375.9 814.6h0M351 842h0M379.7 832.7h0M347.3 810.9h0M329.8 834.5h0M334.1 822.2h0M372.5 808.9h0
M382.8 843.6h0M379.7 810.3h0M351 859.9h0M331.1 865.3h0M386.7 820.1h0M332.7 855.3h0M345.2 827h0M331.7 841.5h0M386.7 835.5h0M367.6 820.5h0M387.5 825.3h0M350.9 834.2h0
M359 823.5h0M395.4 802.4h0M390.7 809h0M380.4 797.4h0M394.2 800.8h0M394.8 805.5h0M377.5 799.1h0M385.5 806.4h0M391.8 790.8h0M389.7 797.4h0M401.9 799.8h0M393.4 789.8h0
M402.9 796.2h0M406.2 798.4h0M383.2 801.2h0M392.8 811.3h0M389.3 790.3h0M398.6 801.1h0M402.1 804.9h0M384.7 803.5h0M388.2 807.6h0M398.2 795.5h0M407.5 805.7h0M408.2 799.1h0
M391.1 810.8h0M391.1 807.1h0M378.8 793.4h0M403.3 803.5h0M381.9 794.5h0M384.3 794.5h0M378.7 802h0M408.2 803.2h0M387.1 796.3h0M390.4 780.2h0M398.3 781h0M394.3 785.8h0
M393.2 765.2h0M394.3 771.5h0M367.4 723.2h0M376.1 728.8h0M369 732.7h0M380.6 741.9h0M311.2 865.4h0M365.9 860.2h0M345.7 863.3h0M373.8 848.6h0M436.8 839.7h0M423.4 822.3h0
M457.3 861.9h0M455.7 843.4h0M465.7 866h0M410.5 811h0M468.5 861.5h0M454.5 841.1h0M422.6 833.8h0M425.4 835.1h0M441.6 841h0M456.8 846.4h0M430.7 837.3h0M447.6 846.1h0
M421.3 829.6h0M455.2 848.2h0M473.5 857.9h0M461.8 850.7h0M451.2 840.9h0M468 849.4h0M429.7 825.6h0M468.8 853.5h0M467.6 867.6h0M458.7 860.1h0M421.2 825.8h0M423.8 837.4h0
M448.2 843.2h0M439.9 844h0M438.8 837.5h0M463.9 857.2h0M447.6 853.4h0M425.6 840h0M474.6 852.5h0M429 835.5h0M444.4 848.2h0M432.3 839.8h0M458.4 851h0M462.7 847.5h0
M470.9 858.8h0M471.4 866.2h0M427.4 823.2h0M411.4 822h0M459.1 848.2h0M466.1 858.4h0M434.5 840.8h0M476.7 864.3h0M425.4 830.5h0M461.4 854.9h0M460.8 863.3h0M414.4 817h0
M455.8 860.2h0M478 854.6h0M406.9 816.7h0M435.4 835.9h0M455.6 855.7h0M425.9 826h0M432.6 828.2h0M465.6 851.8h0M443.1 843.4h0M433.7 830.2h0M412.4 813.5h0M429.9 828.5h0
M451.4 852.8h0M466.8 845.1h0M475.4 859.6h0M474.7 866.1h0M472.5 850.9h0M473.7 862.2h0M420.4 832.3h0M432 832.1h0M415.7 823.6h0M409.5 814.7h0M458.5 842.1h0M449.4 851.4h0
M447.1 840.2h0M471.3 868.8h0M428.4 831.6h0M444.4 837.3h0M457.4 858.2h0M469.9 856.3h0M444 841.1h0M419.1 822.9h0M462.4 843.1h0M471.9 853.5h0M417.2 827.8h0M449.8 848.4h0
M408.2 819.3h0M482 878.5h0M486.2 874.4h0M498 868.6h0M492.1 878.7h0M482.7 870.4h0M495.6 877.3h0M489.5 879.9h0M478.1 872.6h0M491.4 880.3h0M475.8 873.4h0M497.9 877.7h0
M492.6 875.1h0M507.6 878.6h0M478.8 870.7h0M494 878.5h0M491.8 868.2h0M493 889.4h0M488.4 877.7h0M504.2 881.4h0M498.1 873.2h0M475.5 869h0M484.6 882.6h0M501.4 877.9h0
M476.7 867.1h0M489.9 871.3h0M472.1 868.4h0M507.5 876.6h0M495.5 887.1h0M497.5 870.8h0M489.4 889.7h0M499 879.5h0M480 881.9h0M493.7 871.3h0M491.2 889.6h0M489.5 884.5h0
M489.5 876.1h0M499.3 870.4h0M475.8 876.5h0M500.2 883.8h0M472.9 871.8h0M491.2 873.8h0M486.5 880.4h0M492.1 870h0M480.4 875.2h0M501.4 871.2h0M503 883.9h0M500.4 873.3h0
M483 873h0M496.6 879.2h0M491.6 891.8h0M495.5 875.5h0M497.4 885.7h0M491.1 886.2h0M479.4 879.3h0M496.8 883.1h0M493.3 880.7h0M486.5 871.3h0M500.8 880.5h0M488.3 868.2h0
M494.9 881.6h0M479.3 867.5h0M490.1 868.9h0M503.3 871.1h0M489.7 887.4h0M477.8 874.9h0M507.7 880.5h0M483.4 876.7h0M400 851.7h0M402.2 848.4h0M365.8 860.3h0M345.4 863.6h0
M447.2 856.4h0M443.3 848.4h0M497.7 903.9h0M498.4 910.7h0M501.4 915.6h0M502.6 919.1h0M503.3 923.5h0M505.1 933h0M509.3 952h0M519.1 909.9h0M512.2 969.4h0M513.6 978.6h0
M514.5 983h0M515.9 986.5h0M518 990h0M518.5 994.9h0M525 995.3h0M525.9 998.8h0M528.9 1000.5h0M526.8 1005.8h0M520.6 1004.9h0M517.1 1006.6h0M509.3 1012.4h0M511 1019.4h0
M514.5 1017.1h0M521.5 1014.5h0M432.6 1044.4h0M432.3 1044.5h0M434.5 1042.8h0M431.5 1045.2h0M436.4 1041.7h0M434.8 1044.1h0M436.2 1041.6h0M434.3 1044.6h0M434.3 1044.7h0M615.5 665.6h0
M598.8 662.1h0M618.7 704h0M622.3 675.4h0M637.7 691.1h0M632.7 685.8h0M629.9 671.3h0M586.4 671.5h0M614.2 684.7h0M615.6 690.2h0M621 686.5h0M637.3 686.6h0M622.5 661.7h0
M613.7 657.3h0M590.9 664h0M608.1 664.2h0M638.2 684.3h0M601.7 677.5h0M636.9 656.2h0M618.4 679.1h0M602.6 691.6h0M632.9 679.1h0M600.3 646.3h0M609.9 693.1h0M611.3 665.1h0
M617.9 675h0M594.8 644.4h0M610 667.3h0M594.8 669.7h0M608.9 686.2h0M638.6 669.8h0M639.7 662.1h0M632.4 664.2h0M606.6 649.6h0M597.9 699h0M601.9 684.6h0M626.8 692.5h0
M637.5 682.4h0M605.9 693.9h0M604.6 684.2h0M626.3 676.9h0M628.7 673.9h0M621.3 670h0M613 695.1h0M604.7 666.1h0M601.3 657.6h0M600.8 674h0M603.1 686.4h0M612.1 683.7h0
M594.4 680.3h0M612.9 672.9h0M621.9 697h0M609.8 648.5h0M633.9 701.8h0M628.7 699.5h0M627.8 687.1h0M598.4 654.7h0M593.3 674.7h0M625.7 684.4h0M636 698.7h0M591.9 692.9h0
M590.5 658.2h0M590 654h0M603.5 659.8h0M623.9 659h0M625.2 703.5h0M628.1 662.1h0M588.7 674h0M618.3 662.6h0M616.7 672.3h0M638.2 672.6h0M619.7 676.6h0M626.6 680.6h0
M604.5 642.8h0M631.9 691.9h0M627.3 672.3h0M611.2 671.6h0M621.7 691.9h0M599.1 648.5h0M596.3 646.9h0M625.6 668.8h0M620.6 665.6h0M591 677.1h0M617.4 667.2h0M640.1 685h0
M614.8 673.7h0M608.9 703.7h0M598.7 651h0M589.7 684.7h0M593.5 649.6h0M595.7 659.8h0M620.9 704.8h0M593.6 657.5h0M618.2 681.3h0M613.6 691.8h0M609.2 682.1h0M641.4 674.9h0
M596 677.2h0M623.6 673.6h0M599.7 669.2h0M608.9 655.1h0M615.7 670h0M619.8 693.3h0M612.1 699.2h0M638.3 675.6h0M637.9 693.8h0M617.3 658.8h0M630 664.3h0M630.3 686.1h0
M590.8 679.2h0M611.2 658.1h0M636.6 688.7h0M634.1 688.7h0M612 654.6h0M634.5 656.2h0M633 670.5h0M594.6 697.5h0M627.8 689.1h0M607.3 658.6h0M634.6 666.9h0M616.9 652.7h0
M603.2 702h0M592.3 653.9h0M599.3 675.3h0M627.2 702.3h0M604.6 674.7h0M613.3 700.9h0M613.4 676.5h0M593.7 695.3h0M591 682.7h0M606.3 698h0M605.4 690.7h0M595.1 662.2h0
M613.5 704.5h0M647.2 685.9h0M600.5 692.1h0M616.1 699.8h0M598.1 664h0M602.2 680.7h0M596.9 651.8h0M608.3 675.5h0M640.8 670.6h0M597.4 694.1h0M631.3 675.7h0M596.3 667.1h0
M624.6 688.8h0M591.9 669.5h0M639.9 688.8h0M589 682.2h0M606.9 701.1h0M591.8 651.7h0M632 660.1h0M609.8 700h0M623.5 694.2h0M626 661.3h0M599.6 677.9h0M611.4 701.7h0
M599.1 671.7h0M595 655.9h0M628.7 695.4h0M625.6 695.5h0M644 685.1h0M634.3 684.7h0M639.8 664.6h0M609.9 680h0M594.1 666.9h0M616.8 688.6h0M627.9 665.5h0M607.7 689.6h0
M603.4 671.6h0M615.5 657.8h0M622.7 681.6h0M596.8 643.8h0M623.6 666.3h0M594 672h0M588.1 679.3h0M630 681.6h0M633.4 674h0M612.7 647.7h0M608.9 662.4h0M613.6 661.7h0
M599.2 682.2h0M608.8 696.5h0M631.8 701.6h0M626.1 698.3h0M642.4 683.2h0M617.9 697h0M620.8 700.9h0M605.3 663.7h0M634.4 658.5h0M604.2 677.7h0M642.2 662.4h0M615 652h0
M600.6 663.2h0M620.5 684.3h0M604.3 700.1h0M620.8 690.1h0M639.3 656.8h0M600 698.4h0M614.9 681.6h0M636.1 676.4h0M607.1 692.2h0M618.4 670.8h0M604 647.1h0M629.9 658.6h0
M596.7 684.9h0M644.4 687.2h0M593.2 678h0M603.1 667.5h0M616.6 650.6h0M600.8 651h0M622.6 655.9h0M625.9 666.2h0M614.7 696.7h0M596.4 671.2h0M597.8 673.5h0M610.8 674.8h0
M640.2 659.8h0M640 682.4h0M596.3 690h0M602.4 645h0M593.2 690.4h0M632.7 683.2h0M603 663.3h0M619.1 657.7h0M598.4 696.9h0M629 691.3h0M597.2 687.7h0M605.1 686.6h0
M616.8 705.8h0M629.4 683.9h0M636.3 660.3h0M630.3 661.6h0M604.6 661.5h0M609.6 669.8h0M622.9 664.1h0M599.3 656.6h0M603.4 649.9h0M590.8 671.2h0M630.2 688.5h0M618.9 690.6h0
M623 679h0M601.7 694.8h0M625.2 663.1h0M603.4 655h0M632.3 699.6h0M587.7 669.6h0M590.4 691.3h0M640.6 678.2h0M616.8 703h0M636.3 664.7h0M619.5 667.8h0M599.2 665.9h0
M611.6 668.8h0M634.4 694h0M630.6 668.7h0M598 659.6h0M613 679.3h0M635.8 662.2h0M635.4 669.8h0M606.6 669.1h0M613.8 659.5h0M590.1 649.5h0M601.1 686.7h0M607.1 681h0
M611.2 661.3h0M594.4 653.6h0M623.8 676.9h0M592.9 686.5h0M613.4 667.4h0M635.2 696.4h0M636.1 672.3h0M589.9 667.5h0M619.4 652.5h0M655 686h0M650 690h0M658 691.4h0
M660.4 697h0M642 696.6h0M646.4 697h0M659 703h0M663 704h0M641 705h0M638 707h0M649 704h0M646.4 710h0M656 712.4h0M652 714.4h0M607.4 707h0
M614.6 711.4h0M660.6 728h0M665 729h0M668 727h0M671 733h0M668.4 735h0M591 712h0M592.4 715h0M588 722h0M586.6 725h0M583.6 730.4h0M581.4 735.6h0
M578.6 740h0M577.4 743h0M576 745h0M574 747.6h0M548.4 790h0M545 794h0M547.6 796.4h0M604 782h0M603 785h0M603.4 787h0M712 718h0M718 719.4h0
M721.6 722h0M724 718h0M728 715h0M732 718h0M726 719h0M741 716.2h0M736.4 784.4h0M738 796h0M740 794h0M742.4 792h0M720 720h0M729 716.4h0
M667.4 715.5h0M664.8 717.3h0M666.7 709.2h0M667.4 711.3h0M666.7 720.9h0M669.6 713.2h0M662.6 718.1h0M663.4 708.2h0M665.1 719.1h0M669.5 717.2h0M663 710.3h0M668.6 709h0
M557.6 765.6h0M549.3 769.6h0M546.7 767.5h0M549.3 763.6h0M561.2 767.6h0M547.9 775.4h0M551.9 773.5h0M556 782.5h0M571.8 779.2h0M566.1 779.6h0M547.3 771.5h0M541.1 763.9h0
M542.5 776.2h0M570.9 775.3h0M557 771.7h0M537 775.8h0M549.5 773.3h0M539.3 770.9h0M565.8 775.8h0M568 778.2h0M546.8 765h0M541.6 766.8h0M568.6 775.1h0M561.4 765.4h0
M563.9 771.2h0M556.8 776.6h0M547.9 778.3h0M551.9 782.8h0M550.6 777h0M535.8 772.4h0M560.5 779.9h0M558.1 778.5h0M543.3 773h0M552.9 778.6h0M566.4 772.9h0M537.1 768.9h0
M553.2 769.6h0M559.5 770.5h0M550.8 780.9h0M545.3 763h0M559.3 782.5h0M556.2 769.3h0M546 772.9h0M543.9 767.2h0M560.6 772.8h0M562.6 778.3h0M545.4 776.6h0M539.5 775.4h0
M544.4 769.3h0M546 779h0M552.9 766.6h0M554.6 776.8h0M797 777h0M794 782h0M796 784h0M792 789.4h0M796 791h0M797 794h0M798.4 796.4h0M712.2 820h0
M696 830h0M700.2 834.6h0M702.4 839.4h0M685 930h0M616.6 890h0M621.6 903h0M697.3 860.3h0M729.5 843.1h0M695 854.6h0M721.8 846h0M723.9 857.8h0M690.9 849.7h0
M723.6 844.2h0M702.7 862.4h0M702.8 860.2h0M709.4 858.8h0M719.4 844.8h0M730.5 849h0M702 847.5h0M733.2 848.8h0M724.8 848.7h0M715.9 853.6h0M707.1 856h0M711.4 845h0
M724 851.4h0M727.9 842.1h0M688 855.3h0M694.8 846.4h0M714.7 860.4h0M714.1 846.5h0M692.8 851.4h0M703.3 858.1h0M727.1 844.3h0M733.4 841.9h0M706.3 853h0M731.4 845.3h0
M684.7 851h0M717.8 853.7h0M711.2 854.6h0M727.1 855.2h0M727.6 850.5h0M703.6 850.9h0M699.9 847.1h0M717.2 844h0M685.3 848.3h0M687.5 850.4h0M690.7 853.8h0M706.7 860.9h0
M715.1 851.8h0M704.4 848.8h0M709.3 845.6h0M722.1 841.6h0M700.8 848.9h0M715.5 849.8h0M700.3 852.7h0M710.8 860.5h0M723 847.8h0M720.2 856.6h0M719.8 854.2h0M720 847.7h0
M716.1 858.2h0M701.5 845.6h0M696.7 857h0M712.5 857.1h0M724.9 854h0M727.6 848.3h0M730.7 839.1h0M689.9 858h0M688.3 847h0M720.2 852h0M707.4 847.2h0M704.7 861.1h0
M734.3 844.8h0M692.4 859.8h0M695.6 850.5h0M713.1 849.8h0M700.5 861h0M709.7 849.6h0M698 845.3h0M695 859.3h0M698.2 852.6h0M723.3 859.7h0M709.6 847.5h0M718.9 858.8h0
M717 847.2h0M693 848.7h0M704.5 846.8h0M603.1 847.2h0M629.2 908.6h0M604 851.8h0M615.7 878.9h0M628.2 904h0M617.2 881.8h0M616.5 883.2h0M622.8 923.7h0M616.2 881.9h0
M626.9 900.7h0M629 909.8h0M629.5 917.4h0M630 915.4h0M602.6 849.1h0M627.9 902.7h0M627.3 896.5h0M608.9 866.7h0M605.2 854.4h0M606.9 856.2h0M628 919.5h0M627.1 918h0
M609.7 867.3h0M623.6 923h0M631.4 913.6h0M611 871.7h0M629.4 906.6h0M624.8 920.1h0M608.9 861.4h0M626.6 895.4h0M619.8 925.1h0M614 874.1h0M613.2 875.1h0M603.7 847.9h0
M601.7 847.7h0M630 906.6h0M629.7 917.1h0M627.3 903.3h0M609 861.4h0M626.9 919.1h0M631.9 914.9h0M614.7 879.5h0M618.1 886.9h0M610.7 869h0M629.3 911.8h0M606.1 857.5h0
M626.8 896.6h0M602.8 847.6h0M622.3 891.2h0M603.9 841.8h0M624.8 921.9h0M626.8 899.5h0M607.6 862h0M606.3 852.2h0M607.4 855.9h0M628 905.9h0M615 877h0M707 943.3h0
M708.1 938.3h0M710.4 937.3h0M718.3 938.8h0M705.8 940.5h0M714 938.4h0M717.2 941.2h0M706.5 936h0M702.6 936.1h0M714.8 941.4h0M719.7 940.3h0M711.4 941.2h0M710.5 944.9h0
M704.7 938.2h0M716.5 938.5h0M702.8 939.1h0M708 945.1h0M714 935.9h0M708.2 949.4h0M704 949.8h0M710.2 935.2h0M708.9 942.6h0M704.8 946.8h0M701.1 937.8h0M707.7 940.5h0
M648 980h0M649 982.4h0M651 983h0M653 985h0M650 984h0M935.5 375h0M940 374.2h0M942.5 376.2h0M955 371.2h0M877.8 426.5h0M886.5 438.2h0M896.8 546.2h0
M900 543.8h0M890 559.5h0M892 563h0M888 565h0M885.8 571.2h0M884.5 573.8h0M885 577.5h0M885.5 582.5h0M885.8 585h0M892.8 623h0M558.2 527.7h0M561.7 526.1h0
M565.4 531.8h0M567.7 534.2h0M569.8 535.4h0M576.7 541.4h0M579.5 543.5h0M582.5 545.4h0M584.8 547.4h0M587.3 549.6h0M578.2 548.3h0M547.7 517.2h0M550 514.7h0M400.7 809h0
M376.8 782.8h0M402.5 826.5h0M390.4 783.5h0M373.5 757.4h0M415.5 832.6h0M399.2 826.5h0M379.5 774.9h0M382.3 779.3h0M404.4 814.5h0M408.9 812.9h0M389.9 765.9h0M382.2 793.7h0
M402.1 823.2h0M403.9 807.8h0M395.5 800h0M384.9 796h0M401.8 802.3h0M409.9 824.5h0M384.7 810.1h0M418.2 833.6h0M399.2 820.1h0M377.8 751.2h0M394.4 793.4h0M410.2 818.7h0
M404.3 809.9h0M393.7 789.6h0M376.7 773.7h0M399.1 828.8h0M386.2 776.2h0M395.7 813.9h0M386.1 812.4h0M379.8 780.8h0M410.7 812.2h0M389.8 817.7h0M381.8 757.9h0M393.4 796.4h0
M404.8 803.3h0M404.8 826.2h0M399.9 822.6h0M376.2 755.6h0M382.7 772.4h0M406.6 812.8h0M393.7 818h0M391.3 775.3h0M387 784.7h0M393.9 777.1h0M392.9 820.1h0M377.5 753.2h0
M388.2 801.1h0M385.3 760.1h0M407.9 817.1h0M382.1 781.3h0M389.4 779.9h0M381.3 761.1h0M382.3 796.3h0M386.4 787.6h0M388.8 769.5h0M397.8 817.4h0M382.3 765.6h0M383.5 804.4h0
M402 810.8h0M384 800.7h0M409.4 820.5h0M383.2 807.8h0M376.3 771.4h0M406.6 822.9h0M386.1 799.2h0M415.2 822.5h0M397.6 804.4h0M397 794.9h0M389.3 791.3h0M418.6 830.8h0
M398.5 806.5h0M375.5 747.1h0M386.9 809.3h0M384.4 781.1h0M384.4 816.9h0M392.5 809.1h0M395.6 805.8h0M386.9 794.5h0M403 836.4h0M403.1 829.1h0M416.4 825.8h0M663.1 710.4h0
M665.4 723h0M667.2 723.8h0M657.9 702.2h0M664.7 730h0M648.6 691h0M665.3 729.2h0M653.5 695.8h0M651.9 692.7h0M667.8 730.1h0M661.1 704.5h0M661.9 707.2h0M664.6 712h0
M666.1 721.3h0M664.8 724.7h0M653.2 692.1h0M656 694.3h0M652 695h0M667.5 724h0M660.9 708.5h0"/>
<path fill="none" stroke="#8960f2" stroke-width="5.6" stroke-linecap="round" d="M175.5 509h0M196.2 507.5h0M185 514.2h0M193.8 513.5h0M202.5 515h0M206.2 511.8h0M210 513.8h0M213.8 511.2h0M162.5 518.8h0M171.2 518.8h0M190.5 523h0M194.5 523.2h0M173.8 525.8h0M167.5 527.5h0M158.8 528.2h0M180.8 533.2h0M193 531.8h0M172 535h0M172.5 537h0M152 539.5h0M153.2 542.5h0M162 540.5h0M173.2 542h0M191 542.8h0M212 541h0M218.2 540.5h0M223.2 538.2h0M227 542h0M232.5 542h0M244.5 506.8h0M221.8 549h0M156.8 548.5h0M158.8 551.8h0M164.5 549.2h0M165.5 553h0M164.5 556.2h0M179 552.5h0M184.5 555.2h0M190.2 557.8h0M231.8 558.5h0M156 561.5h0M171.2 563.2h0M175 562.2h0M179.5 561.5h0M180.5 559.5h0M612.5 239.7h0M431.3 535.2h0M502.5 529.3h0M474.2 555.8h0M454.3 562.2h0M455.3 574.5h0M436.7 593.5h0M489.5 581.7h0M708.3 457.7h0M715.8 501.7h0M715.6 501.6h0M731.6 532.9h0M905.2 727.9h0M311.6 801.6h0M513.5 974.4h0M525.4 989.3h0M516.8 1011h0M518 1013.6h0M514.5 1014.9h0M516.6 1017.1h0M798 779h0"/>
<path fill="none" stroke="#0000ff" stroke-width="5.6" stroke-linecap="round" d="M207.5 519.5h0M162.5 531h0M490.2 578.7h0M690.3 464.3h0M522.9 1009.3h0"/>
<!-- axes -->
<g stroke="#000" stroke-width="3.1" fill="none">
<path d="M95.4 51 V1121"/>
<path d="M93.85 1119.5 H1104"/>
<path d="M90 277.3 H95"/><path d="M90 571.4 H95"/><path d="M90 865.3 H95"/>
<path d="M141.1 1120 V1124.6"/><path d="M304.6 1120 V1124.6"/><path d="M468.1 1120 V1124.6"/><path d="M631.5 1120 V1124.6"/><path d="M795 1120 V1124.6"/><path d="M958.5 1120 V1124.6"/>
</g>
<g font-size="30" text-anchor="end">
<text transform="translate(88.7,288) scale(1,1.025)">10</text><text transform="translate(88.7,582) scale(1,1.025)">0</text><text transform="translate(88.7,876) scale(1,1.025)">-10</text>
</g>
<g font-size="30" text-anchor="middle">
<text transform="translate(140.7,1147.6) scale(1,1.025)">-15</text><text transform="translate(304.2,1147.6) scale(1,1.025)">-10</text><text transform="translate(467.7,1147.6) scale(1,1.025)">-5</text><text transform="translate(631.3,1147.7) scale(1,1.025)">0</text><text transform="translate(794.8,1147.7) scale(1,1.025)">5</text><text transform="translate(958.3,1147.7) scale(1,1.025)">10</text>
</g>
<text transform="translate(596.4,1180.6) scale(0.987,1.035)" font-size="30" text-anchor="middle">umapNC_1</text>
<text transform="translate(33.6,586.2) rotate(-90) scale(1.012,1.035)" font-size="30" text-anchor="middle">umapNC_2</text>
<text x="599.5" y="36.8" font-size="35" font-weight="bold" text-anchor="middle">Chd5</text>
<!-- legend -->
<rect x="1116" y="547.7" width="15.5" height="76.3" fill="url(#lg)"/>
<g stroke="#fff" stroke-width="0.8" opacity="0.6">
<path d="M1116 554.4 h3.1 M1128.4 554.4 h3.1 M1116 571.9 h3.1 M1128.4 571.9 h3.1 M1116 589.3 h3.1 M1128.4 589.3 h3.1 M1116 606.7 h3.1 M1128.4 606.7 h3.1"/>
</g>
<g font-size="24.4">
<text x="1139.6" y="563.4">1.00</text><text x="1139.6" y="580.9">0.75</text><text x="1139.6" y="598.3">0.50</text><text x="1139.6" y="615.7">0.25</text><text x="1139.6" y="633.2">0.00</text>
</g>
</svg>
</body></html>
